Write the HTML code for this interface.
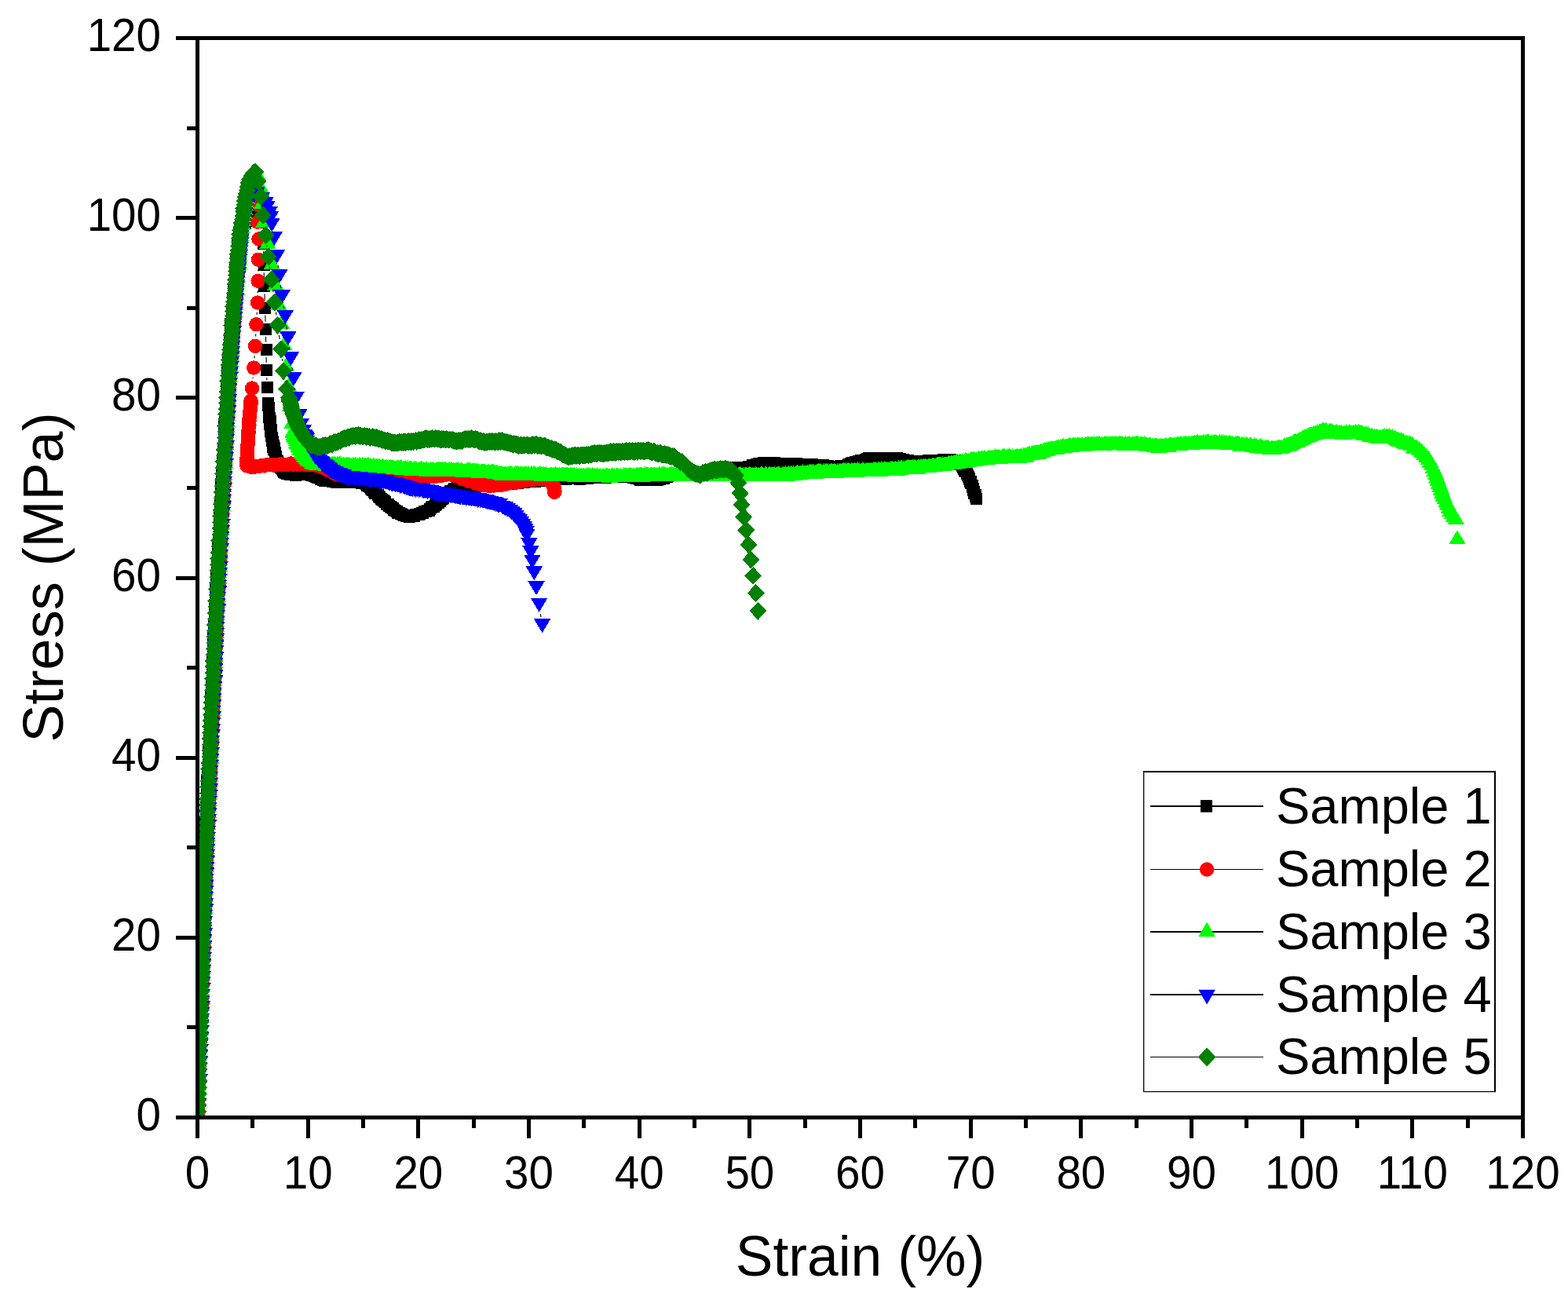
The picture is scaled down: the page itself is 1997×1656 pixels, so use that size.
<!DOCTYPE html><html><head><meta charset="utf-8"><style>html,body{margin:0;padding:0;background:#fff;}svg{display:block}text{font-family:"Liberation Sans", Arial, sans-serif}</style></head><body>
<svg width="1997" height="1656" viewBox="0 0 1997 1656">
<rect x="0" y="0" width="1997" height="1656" fill="#fff"/>
<defs><clipPath id="pc"><rect x="251.5" y="48.5" width="1688.0" height="1375.0"/></clipPath></defs>
<g clip-path="url(#pc)">
<path fill="none" stroke="#000" stroke-width="1.1" d="M331.4 271.6L331.9 274.1M334.2 293L334.8 301M335.7 320L335.8 328.2M336.2 347.2L336.3 355.4M336.9 374.4L337.3 382.6M337.8 401.6L338 409.7M338.4 428.7L338.7 435.8M339.1 454.8L339.2 461.9M339.8 480.9L339.9 484.3"/>
<path fill="#000" shape-rendering="crispEdges" d="M243.4 1416h15v15h-15zM243.4 1408.3h15v15h-15zM244.1 1400.5h15v15h-15zM243.7 1393h15v15h-15zM244.4 1385.3h15v15h-15zM244.4 1377.5h15v15h-15zM244.3 1369.8h15v15h-15zM245 1362h15v15h-15zM244.7 1354.5h15v15h-15zM245.3 1346.8h15v15h-15zM245.1 1339h15v15h-15zM245.4 1331.3h15v15h-15zM245.9 1323.5h15v15h-15zM246.5 1315.8h15v15h-15zM246 1308.3h15v15h-15zM246.3 1300.5h15v15h-15zM246.9 1292.8h15v15h-15zM247.4 1285h15v15h-15zM247.2 1277.5h15v15h-15zM247.3 1269.8h15v15h-15zM248 1262.1h15v15h-15zM247.3 1254.3h15v15h-15zM248.3 1246.6h15v15h-15zM248 1238.8h15v15h-15zM248 1231.3h15v15h-15zM248.2 1223.6h15v15h-15zM248.6 1215.8h15v15h-15zM249.3 1208.1h15v15h-15zM248.9 1200.3h15v15h-15zM249.5 1192.8h15v15h-15zM249.7 1185.1h15v15h-15zM249.7 1177.3h15v15h-15zM250 1169.6h15v15h-15zM249.8 1161.8h15v15h-15zM250 1154.1h15v15h-15zM250.3 1146.6h15v15h-15zM251 1138.8h15v15h-15zM250.9 1131.1h15v15h-15zM251 1123.3h15v15h-15zM251.5 1115.9h15v15h-15zM251.5 1108.1h15v15h-15zM251.6 1100.4h15v15h-15zM252.3 1092.6h15v15h-15zM252.5 1084.9h15v15h-15zM252.4 1077.4h15v15h-15zM253.1 1069.6h15v15h-15zM253.4 1062.1h15v15h-15zM254 1054.6h15v15h-15zM254.2 1046.9h15v15h-15zM254.1 1039.4h15v15h-15zM255.1 1031.7h15v15h-15zM254.6 1024.2h15v15h-15zM255.3 1016.4h15v15h-15zM255.9 1008.7h15v15h-15zM255.7 1000.9h15v15h-15zM256.3 993.2h15v15h-15zM256.2 985.5h15v15h-15zM257.2 977.7h15v15h-15zM257.6 970.2h15v15h-15zM257.8 962.5h15v15h-15zM258.4 954.7h15v15h-15zM258.2 947h15v15h-15zM258.9 939.3h15v15h-15zM259.2 931.5h15v15h-15zM259.5 923.8h15v15h-15zM259.7 916h15v15h-15zM260.4 908.5h15v15h-15zM260.8 900.8h15v15h-15zM260.7 893.3h15v15h-15zM261.2 885.6h15v15h-15zM260.9 878.1h15v15h-15zM261.9 870.3h15v15h-15zM262.2 862.8h15v15h-15zM262.9 855.1h15v15h-15zM263 847.6h15v15h-15zM262.8 840.1h15v15h-15zM263.2 832.4h15v15h-15zM263.8 824.9h15v15h-15zM263.5 817.1h15v15h-15zM264.3 809.6h15v15h-15zM264.3 801.9h15v15h-15zM264.6 794.4h15v15h-15zM264.9 786.7h15v15h-15zM265.9 779.2h15v15h-15zM265.6 771.4h15v15h-15zM266.1 763.9h15v15h-15zM266.5 756.2h15v15h-15zM267.4 748.4h15v15h-15zM267 740.7h15v15h-15zM267.8 733h15v15h-15zM268.3 725.2h15v15h-15zM269.1 717.5h15v15h-15zM269.4 709.7h15v15h-15zM269.9 702h15v15h-15zM269.7 694.3h15v15h-15zM270.3 686.5h15v15h-15zM270.6 678.8h15v15h-15zM271.6 671.1h15v15h-15zM272.1 663.3h15v15h-15zM271.7 655.6h15v15h-15zM272.1 647.8h15v15h-15zM272.6 640.1h15v15h-15zM273 632.4h15v15h-15zM273.7 624.6h15v15h-15zM274.2 616.9h15v15h-15zM274.3 609.1h15v15h-15zM274.5 601.4h15v15h-15zM275.3 593.7h15v15h-15zM275.7 585.9h15v15h-15zM276.3 578.2h15v15h-15zM277.1 570.7h15v15h-15zM277.2 563h15v15h-15zM277.5 555.2h15v15h-15zM278 547.7h15v15h-15zM278.4 540.2h15v15h-15zM278.2 532.8h15v15h-15zM279.4 525.5h15v15h-15zM279.7 518.3h15v15h-15zM280.2 511h15v15h-15zM280.5 503.8h15v15h-15zM280.5 496.8h15v15h-15zM280.9 489.8h15v15h-15zM280.9 482.8h15v15h-15zM281.8 476.1h15v15h-15zM281.7 469.3h15v15h-15zM282.2 462.6h15v15h-15zM282.8 455.9h15v15h-15zM283.2 449.4h15v15h-15zM283.9 442.9h15v15h-15zM284.1 436.4h15v15h-15zM284.5 429.9h15v15h-15zM285.1 423.7h15v15h-15zM285.5 417.5h15v15h-15zM286.2 411.2h15v15h-15zM286.3 405h15v15h-15zM287.6 399h15v15h-15zM287.9 393.1h15v15h-15zM287.9 387.1h15v15h-15zM288.5 381.1h15v15h-15zM289.1 375.4h15v15h-15zM289.6 369.6h15v15h-15zM289.9 363.9h15v15h-15zM291.1 358.2h15v15h-15zM291.7 352.5h15v15h-15zM291.6 347h15v15h-15zM292.1 341.5h15v15h-15zM292.2 336h15v15h-15zM292.7 330.5h15v15h-15zM293.4 325.3h15v15h-15zM293.7 320.1h15v15h-15zM294.8 314.8h15v15h-15zM294.6 309.6h15v15h-15zM295 304.4h15v15h-15zM296.4 299.4h15v15h-15zM296.5 294.4h15v15h-15zM296.6 289.5h15v15h-15zM299 285.1h15v15h-15zM301.5 281.1h15v15h-15zM304.9 277.4h15v15h-15zM308.3 273.6h15v15h-15zM311.1 269.8h15v15h-15zM313.8 266.1h15v15h-15zM316.2 262.3h15v15h-15zM319.2 258.6h15v15h-15zM322.3 254.8h15v15h-15zM326 276h15v15h-15zM328 303h15v15h-15zM328.5 330.2h15v15h-15zM329 357.4h15v15h-15zM330.2 384.6h15v15h-15zM330.6 411.7h15v15h-15zM331.5 437.8h15v15h-15zM331.8 463.9h15v15h-15zM332.9 486.3h15v15h-15zM333.5 505.9h15v15h-15zM334 507.9h15v15h-15zM334.1 509.1h15v15h-15zM334.6 512.1h15v15h-15zM334.9 513.9h15v15h-15zM335 515.8h15v15h-15zM334.8 517.5h15v15h-15zM335.1 518.8h15v15h-15zM335 521.1h15v15h-15zM335.4 523.7h15v15h-15zM336.2 525.3h15v15h-15zM336.3 528.1h15v15h-15zM336.6 529.2h15v15h-15zM336.2 531h15v15h-15zM336.4 532.9h15v15h-15zM337 535.9h15v15h-15zM337.4 537.3h15v15h-15zM337.5 539.7h15v15h-15zM337.4 541.5h15v15h-15zM338.3 543.7h15v15h-15zM338.4 545.2h15v15h-15zM338.3 547.6h15v15h-15zM338.6 549.6h15v15h-15zM339.4 551h15v15h-15zM339.2 553.8h15v15h-15zM339.8 554.7h15v15h-15zM339.7 556.6h15v15h-15zM340.7 559.5h15v15h-15zM340.4 561.5h15v15h-15zM341.5 563.2h15v15h-15zM341.3 565h15v15h-15zM341.5 566.3h15v15h-15zM342.6 569.1h15v15h-15zM342.7 571.5h15v15h-15zM343.2 573.3h15v15h-15zM344.2 574.2h15v15h-15zM344.4 576.2h15v15h-15zM345.1 578.5h15v15h-15zM345.8 580.2h15v15h-15zM346.4 582.7h15v15h-15zM347.2 584h15v15h-15zM348.4 586.3h15v15h-15zM349.5 588h15v15h-15zM350.7 589.1h15v15h-15zM351.8 590h15v15h-15zM352.9 591.9h15v15h-15zM353.7 594.4h15v15h-15zM355.5 594.8h15v15h-15zM357.9 595.5h15v15h-15zM359.4 596.1h15v15h-15zM361.5 597h15v15h-15zM363.1 597.3h15v15h-15zM365.2 597.1h15v15h-15zM367.6 597.4h15v15h-15zM369.4 597.6h15v15h-15zM371.7 597.1h15v15h-15zM373.4 597.1h15v15h-15zM375.4 597.2h15v15h-15zM377.3 596.9h15v15h-15zM379.3 597.4h15v15h-15zM381.5 597.2h15v15h-15zM383.7 596.2h15v15h-15zM385.4 597.3h15v15h-15zM387.5 596.7h15v15h-15zM388.9 597.6h15v15h-15zM390.8 597.9h15v15h-15zM392.7 599h15v15h-15zM395.2 599.9h15v15h-15zM396.5 600.5h15v15h-15zM398.7 600.5h15v15h-15zM400.7 602.5h15v15h-15zM402 603.3h15v15h-15zM404 603.5h15v15h-15zM406.3 604.8h15v15h-15zM407.4 605h15v15h-15zM409.6 605.3h15v15h-15zM411.4 605.4h15v15h-15zM413.8 605.1h15v15h-15zM415.7 605.8h15v15h-15zM417.2 605.8h15v15h-15zM419.7 606.1h15v15h-15zM421.3 606.9h15v15h-15zM423.8 607h15v15h-15zM425.3 606.1h15v15h-15zM427.2 606.8h15v15h-15zM429.4 605.8h15v15h-15zM431.5 606.8h15v15h-15zM433.8 605.8h15v15h-15zM435.3 606.6h15v15h-15zM437.6 606.2h15v15h-15zM439.2 605.2h15v15h-15zM441.7 605.6h15v15h-15zM443.2 606.2h15v15h-15zM445.6 606.2h15v15h-15zM447.1 606.8h15v15h-15zM449.1 607.3h15v15h-15zM451.3 607h15v15h-15zM453.3 608.4h15v15h-15zM455 607.7h15v15h-15zM457.2 608.4h15v15h-15zM458.6 609.1h15v15h-15zM460 610.5h15v15h-15zM461.7 612h15v15h-15zM463.5 613.4h15v15h-15zM464.7 614.6h15v15h-15zM466.1 615.8h15v15h-15zM467.4 617.1h15v15h-15zM469.3 619.3h15v15h-15zM470.3 620.5h15v15h-15zM472.3 621.4h15v15h-15zM473.7 623.2h15v15h-15zM474.9 625.1h15v15h-15zM476.3 626h15v15h-15zM478 628.1h15v15h-15zM479.2 629.2h15v15h-15zM480.9 630.3h15v15h-15zM482.2 631.3h15v15h-15zM483.3 632.3h15v15h-15zM484.8 634.5h15v15h-15zM486.5 635h15v15h-15zM488 637.1h15v15h-15zM490.2 638.1h15v15h-15zM491.3 638.7h15v15h-15zM492.9 640.3h15v15h-15zM494.4 641.5h15v15h-15zM496 643.4h15v15h-15zM498.2 644h15v15h-15zM499.3 645.7h15v15h-15zM501.2 645.7h15v15h-15zM502.7 646.6h15v15h-15zM504.9 647.6h15v15h-15zM506.5 648.5h15v15h-15zM508.1 649h15v15h-15zM510 650.1h15v15h-15zM511.8 650.4h15v15h-15zM513.9 650.5h15v15h-15zM516 650.3h15v15h-15zM518.1 650h15v15h-15zM519.9 649.7h15v15h-15zM521.6 648.4h15v15h-15zM524 647.6h15v15h-15zM525.7 647.7h15v15h-15zM527 647.2h15v15h-15zM529.5 646.1h15v15h-15zM531.2 645.6h15v15h-15zM532.6 644.4h15v15h-15zM534.7 644h15v15h-15zM536.8 643.2h15v15h-15zM538.5 642.5h15v15h-15zM540.3 641.3h15v15h-15zM541.5 639.1h15v15h-15zM543 638.4h15v15h-15zM544.6 637.8h15v15h-15zM546.5 636.3h15v15h-15zM548.1 635.1h15v15h-15zM549.5 632.9h15v15h-15zM551.3 632.6h15v15h-15zM552.5 631h15v15h-15zM554.2 629h15v15h-15zM555.7 627.9h15v15h-15zM556.7 626.6h15v15h-15zM558.6 625.1h15v15h-15zM560.1 624.8h15v15h-15zM561.3 622.5h15v15h-15zM562.7 621.6h15v15h-15zM564.3 620h15v15h-15zM565.9 618.2h15v15h-15zM567.3 617.5h15v15h-15zM569.5 616.6h15v15h-15zM571.1 615.2h15v15h-15zM572.4 614.6h15v15h-15zM574.7 614.3h15v15h-15zM576.6 613.1h15v15h-15zM578.4 612.8h15v15h-15zM580.3 611.7h15v15h-15zM582.5 611.2h15v15h-15zM584.5 611.7h15v15h-15zM585.6 610.4h15v15h-15zM588.2 610.7h15v15h-15zM589.9 610h15v15h-15zM591.7 611.3h15v15h-15zM593.6 611.1h15v15h-15zM595.6 611.3h15v15h-15zM598.2 611h15v15h-15zM600.1 611.4h15v15h-15zM602.1 611.5h15v15h-15zM603.6 611.6h15v15h-15zM605.8 610.3h15v15h-15zM607.4 610.8h15v15h-15zM609.8 610.4h15v15h-15zM611.5 610.3h15v15h-15zM613.7 610.9h15v15h-15zM615.4 610.6h15v15h-15zM618.1 609.6h15v15h-15zM620.1 610.3h15v15h-15zM622.1 609.6h15v15h-15zM623.7 609.6h15v15h-15zM626.2 609.7h15v15h-15zM627.7 609.4h15v15h-15zM629.6 608.7h15v15h-15zM631.4 609.7h15v15h-15zM633.6 609.7h15v15h-15zM635.5 608.6h15v15h-15zM637.8 608.4h15v15h-15zM639.6 609.3h15v15h-15zM642 609h15v15h-15zM643.8 609h15v15h-15zM646.1 608.2h15v15h-15zM647.9 607.3h15v15h-15zM649.9 607.7h15v15h-15zM651.9 607.8h15v15h-15zM653.5 606.8h15v15h-15zM656 606.7h15v15h-15zM657.6 606.8h15v15h-15zM659.5 607.1h15v15h-15zM662 606.3h15v15h-15zM663.8 606.1h15v15h-15zM665.7 606h15v15h-15zM667.3 605.5h15v15h-15zM669.4 606.4h15v15h-15zM671.6 605.2h15v15h-15zM673.9 606.1h15v15h-15zM675.5 604.7h15v15h-15zM677.3 604.4h15v15h-15zM679.4 604.2h15v15h-15zM681.3 604.3h15v15h-15zM683.6 605h15v15h-15zM685.7 604.1h15v15h-15zM687.4 604.1h15v15h-15zM689.4 603.7h15v15h-15zM691.2 603.4h15v15h-15zM693.9 603h15v15h-15zM695.5 603.6h15v15h-15zM697.8 602.8h15v15h-15zM699.3 602.7h15v15h-15zM701.4 602.8h15v15h-15zM703.8 603.2h15v15h-15zM705.7 601.8h15v15h-15zM707.1 602.6h15v15h-15zM709.8 602.1h15v15h-15zM711.5 601.3h15v15h-15zM713.3 602.5h15v15h-15zM715.7 602.4h15v15h-15zM717.8 601.5h15v15h-15zM719.1 601.4h15v15h-15zM721.4 602.2h15v15h-15zM723.8 602.2h15v15h-15zM725.5 602.3h15v15h-15zM727.4 602h15v15h-15zM729.1 602.3h15v15h-15zM731.2 602.5h15v15h-15zM733.5 601.6h15v15h-15zM735.1 601.4h15v15h-15zM737.5 601.9h15v15h-15zM739.1 600.9h15v15h-15zM741.4 601.5h15v15h-15zM743.3 600.9h15v15h-15zM745.5 600.4h15v15h-15zM747.2 601h15v15h-15zM749.8 601.1h15v15h-15zM751.7 600.7h15v15h-15zM753.2 600.3h15v15h-15zM755.8 600.8h15v15h-15zM757.2 599.7h15v15h-15zM759.4 600.5h15v15h-15zM761.3 599.8h15v15h-15zM763.5 600.6h15v15h-15zM765.1 599.3h15v15h-15zM767.2 599.7h15v15h-15zM769.5 599.3h15v15h-15zM771.6 599.9h15v15h-15zM773.4 599h15v15h-15zM775.7 599.1h15v15h-15zM777.6 598.8h15v15h-15zM779.1 599.5h15v15h-15zM781.2 599.6h15v15h-15zM783.3 598.5h15v15h-15zM785.1 598.9h15v15h-15zM787.5 599.7h15v15h-15zM789 599h15v15h-15zM791.1 599.9h15v15h-15zM793 598.7h15v15h-15zM795 599.2h15v15h-15zM797.6 600h15v15h-15zM799.4 600.5h15v15h-15zM801.4 600.4h15v15h-15zM802.7 602h15v15h-15zM805 601.5h15v15h-15zM806.8 602.7h15v15h-15zM808.4 603.5h15v15h-15zM810.2 603h15v15h-15zM812.3 603.5h15v15h-15zM814.8 603.2h15v15h-15zM816.8 603.3h15v15h-15zM818.4 604.2h15v15h-15zM820.7 603.6h15v15h-15zM822.1 603.7h15v15h-15zM824.4 604.3h15v15h-15zM826.2 603.5h15v15h-15zM828.8 603h15v15h-15zM830.4 604.1h15v15h-15zM832.7 603.1h15v15h-15zM833.9 602.2h15v15h-15zM836.4 601.7h15v15h-15zM838.1 601.7h15v15h-15zM839.6 600h15v15h-15zM841.9 599.6h15v15h-15zM843.1 598.9h15v15h-15zM845 597.7h15v15h-15zM846.8 598.2h15v15h-15zM849.5 598h15v15h-15zM851.5 597.1h15v15h-15zM853 597.6h15v15h-15zM855.5 598.2h15v15h-15zM857.1 597.1h15v15h-15zM859.1 597.4h15v15h-15zM861.5 596.9h15v15h-15zM863.4 597.6h15v15h-15zM865.4 597.5h15v15h-15zM867.3 596.8h15v15h-15zM869 596.7h15v15h-15zM871.4 596.1h15v15h-15zM872.9 596.8h15v15h-15zM874.9 595.6h15v15h-15zM876.7 596h15v15h-15zM879 596.4h15v15h-15zM881.4 596.2h15v15h-15zM882.9 594.7h15v15h-15zM884.7 595h15v15h-15zM887.2 594.7h15v15h-15zM888.8 594.4h15v15h-15zM891.1 594.5h15v15h-15zM893.2 594.5h15v15h-15zM895.1 593.3h15v15h-15zM897.2 593.3h15v15h-15zM899 593h15v15h-15zM901.1 592.4h15v15h-15zM902.6 592.1h15v15h-15zM904.5 592.5h15v15h-15zM906.8 591.4h15v15h-15zM908.6 591.9h15v15h-15zM910.7 590.4h15v15h-15zM912.9 590.6h15v15h-15zM915 589.5h15v15h-15zM916.5 590.1h15v15h-15zM918.8 589.8h15v15h-15zM920.1 588.5h15v15h-15zM922.1 588h15v15h-15zM924.8 588.1h15v15h-15zM926.7 588.1h15v15h-15zM928.6 588.6h15v15h-15zM930.1 589.4h15v15h-15zM932.7 588.7h15v15h-15zM934.3 589.8h15v15h-15zM936 589.8h15v15h-15zM937.9 589.2h15v15h-15zM939.9 589.3h15v15h-15zM942.2 588.3h15v15h-15zM943.6 588h15v15h-15zM946.1 587.3h15v15h-15zM947.8 586.9h15v15h-15zM950.1 586.7h15v15h-15zM951.3 585.4h15v15h-15zM953.4 585.3h15v15h-15zM955.5 583.9h15v15h-15zM957 584h15v15h-15zM959.1 582.8h15v15h-15zM961 583.5h15v15h-15zM963 582.7h15v15h-15zM965 582.3h15v15h-15zM967.4 582.9h15v15h-15zM969 581.6h15v15h-15zM971.3 581.7h15v15h-15zM972.7 582.7h15v15h-15zM975 582.7h15v15h-15zM977 582.9h15v15h-15zM979 582h15v15h-15zM980.7 582.6h15v15h-15zM983.2 583.2h15v15h-15zM984.7 582.8h15v15h-15zM987 582.7h15v15h-15zM988.8 582.5h15v15h-15zM991.1 583.5h15v15h-15zM992.7 583h15v15h-15zM995.3 583.8h15v15h-15zM996.8 582.8h15v15h-15zM999.4 584.1h15v15h-15zM1001 582.9h15v15h-15zM1003.4 583.5h15v15h-15zM1005.4 583.9h15v15h-15zM1007.3 583.4h15v15h-15zM1009.3 583.6h15v15h-15zM1010.9 584.5h15v15h-15zM1013.3 583.7h15v15h-15zM1014.8 584.1h15v15h-15zM1017 584.2h15v15h-15zM1018.7 584.2h15v15h-15zM1021.2 585.2h15v15h-15zM1022.6 584.8h15v15h-15zM1025.2 584.2h15v15h-15zM1027.3 584.3h15v15h-15zM1029.1 585h15v15h-15zM1031.1 584.8h15v15h-15zM1032.9 585.2h15v15h-15zM1034.9 585.4h15v15h-15zM1037 585.2h15v15h-15zM1038.6 585.5h15v15h-15zM1041 585.1h15v15h-15zM1043.2 586h15v15h-15zM1044.9 585.5h15v15h-15zM1046.9 585.8h15v15h-15zM1048.6 586.6h15v15h-15zM1050.5 587h15v15h-15zM1052.8 586.8h15v15h-15zM1054.9 587.2h15v15h-15zM1056.9 588.4h15v15h-15zM1058.7 587h15v15h-15zM1060.6 587h15v15h-15zM1063 586.2h15v15h-15zM1064.8 587h15v15h-15zM1066.7 586.3h15v15h-15zM1068.2 586.1h15v15h-15zM1070.4 585.6h15v15h-15zM1072.7 584.1h15v15h-15zM1074.5 584.6h15v15h-15zM1075.8 583.1h15v15h-15zM1078.3 582.3h15v15h-15zM1080.3 581.8h15v15h-15zM1082.2 581.1h15v15h-15zM1083.8 581.6h15v15h-15zM1085.5 580h15v15h-15zM1087.6 579.5h15v15h-15zM1089.2 578.7h15v15h-15zM1091.2 579.2h15v15h-15zM1093.5 578.5h15v15h-15zM1095 577.8h15v15h-15zM1096.9 576.8h15v15h-15zM1099.2 576h15v15h-15zM1101.4 576.3h15v15h-15zM1103.1 576.7h15v15h-15zM1104.8 576.9h15v15h-15zM1107.2 576.1h15v15h-15zM1109.3 575.9h15v15h-15zM1111.5 576.3h15v15h-15zM1113 576.6h15v15h-15zM1115 575.7h15v15h-15zM1117.3 575.6h15v15h-15zM1119.3 575.9h15v15h-15zM1121.2 576.9h15v15h-15zM1123.2 576.4h15v15h-15zM1124.9 575.5h15v15h-15zM1126.7 575.7h15v15h-15zM1129.2 576.1h15v15h-15zM1131.1 576.8h15v15h-15zM1132.8 575.8h15v15h-15zM1135.2 575.9h15v15h-15zM1136.6 576.8h15v15h-15zM1138.7 577.2h15v15h-15zM1140.7 577.9h15v15h-15zM1143 577.7h15v15h-15zM1145 578.5h15v15h-15zM1146.5 579.6h15v15h-15zM1148.6 578.8h15v15h-15zM1150.4 579.9h15v15h-15zM1153 580.5h15v15h-15zM1154.6 580.2h15v15h-15zM1156.2 581.1h15v15h-15zM1158.6 581.1h15v15h-15zM1160.7 581h15v15h-15zM1162.9 581.2h15v15h-15zM1164.3 581.3h15v15h-15zM1166.2 580.6h15v15h-15zM1168.5 580h15v15h-15zM1170.2 580.6h15v15h-15zM1172.1 580h15v15h-15zM1174.9 579.3h15v15h-15zM1176.3 579.7h15v15h-15zM1178.5 579.6h15v15h-15zM1180.7 578.9h15v15h-15zM1182.3 579h15v15h-15zM1184.1 579.7h15v15h-15zM1186.7 579.3h15v15h-15zM1188.1 579.4h15v15h-15zM1190.7 578.8h15v15h-15zM1192.7 578.6h15v15h-15zM1194.3 578.1h15v15h-15zM1196.3 578.1h15v15h-15zM1198.3 579h15v15h-15zM1200.6 579.2h15v15h-15zM1202.6 578.4h15v15h-15zM1204.5 578.6h15v15h-15zM1206.7 578.7h15v15h-15zM1208.3 578.9h15v15h-15zM1210.6 578.9h15v15h-15zM1212.1 579.9h15v15h-15zM1213.1 581.5h15v15h-15zM1215.1 583.8h15v15h-15zM1216.6 584.2h15v15h-15zM1217.9 585.8h15v15h-15zM1218.6 588.2h15v15h-15zM1220.1 589.5h15v15h-15zM1221.4 591.5h15v15h-15zM1222.4 592.9h15v15h-15zM1223.5 594.7h15v15h-15zM1224.2 596.3h15v15h-15zM1225.2 597.5h15v15h-15zM1225.8 599.7h15v15h-15zM1226.5 601.9h15v15h-15zM1227.3 602.6h15v15h-15zM1228 605.7h15v15h-15zM1229 606.4h15v15h-15zM1229.4 608.2h15v15h-15zM1230.7 610.8h15v15h-15zM1231.3 612.9h15v15h-15zM1231.5 614.6h15v15h-15zM1232.3 616.8h15v15h-15zM1233.3 618.8h15v15h-15zM1233.4 620.7h15v15h-15zM1234.7 622.7h15v15h-15zM1234.6 623.5h15v15h-15zM1235.3 625.2h15v15h-15zM1236.4 627.9h15v15h-15z"/>
<path fill="none" stroke="#000" stroke-width="1.1" d="M329.3 316.8L329.2 318.4M328.8 343L328.8 345.6M328.4 370.2L328.3 373.2M327.3 397.8L327.1 400.9M325.7 425.5L325.6 428.6M324.2 453.2L324 456.2M322.2 480.8L322 482.3"/>
<path fill="#f00" shape-rendering="crispEdges" d="M243 1423.5a9.2 9.2 0 1 0 18.4 0a9.2 9.2 0 1 0 -18.4 0zM243.5 1415.8a9.2 9.2 0 1 0 18.4 0a9.2 9.2 0 1 0 -18.4 0zM243.6 1408a9.2 9.2 0 1 0 18.4 0a9.2 9.2 0 1 0 -18.4 0zM243.5 1400.5a9.2 9.2 0 1 0 18.4 0a9.2 9.2 0 1 0 -18.4 0zM243.5 1392.8a9.2 9.2 0 1 0 18.4 0a9.2 9.2 0 1 0 -18.4 0zM243.8 1385a9.2 9.2 0 1 0 18.4 0a9.2 9.2 0 1 0 -18.4 0zM244.7 1377.3a9.2 9.2 0 1 0 18.4 0a9.2 9.2 0 1 0 -18.4 0zM244.4 1369.5a9.2 9.2 0 1 0 18.4 0a9.2 9.2 0 1 0 -18.4 0zM244.8 1361.8a9.2 9.2 0 1 0 18.4 0a9.2 9.2 0 1 0 -18.4 0zM245.2 1354a9.2 9.2 0 1 0 18.4 0a9.2 9.2 0 1 0 -18.4 0zM245 1346.3a9.2 9.2 0 1 0 18.4 0a9.2 9.2 0 1 0 -18.4 0zM245.5 1338.5a9.2 9.2 0 1 0 18.4 0a9.2 9.2 0 1 0 -18.4 0zM245.8 1330.8a9.2 9.2 0 1 0 18.4 0a9.2 9.2 0 1 0 -18.4 0zM246.5 1323.1a9.2 9.2 0 1 0 18.4 0a9.2 9.2 0 1 0 -18.4 0zM246.4 1315.3a9.2 9.2 0 1 0 18.4 0a9.2 9.2 0 1 0 -18.4 0zM246.6 1307.6a9.2 9.2 0 1 0 18.4 0a9.2 9.2 0 1 0 -18.4 0zM247.5 1299.8a9.2 9.2 0 1 0 18.4 0a9.2 9.2 0 1 0 -18.4 0zM247.3 1292.1a9.2 9.2 0 1 0 18.4 0a9.2 9.2 0 1 0 -18.4 0zM247.9 1284.3a9.2 9.2 0 1 0 18.4 0a9.2 9.2 0 1 0 -18.4 0zM248 1276.6a9.2 9.2 0 1 0 18.4 0a9.2 9.2 0 1 0 -18.4 0zM247.6 1268.8a9.2 9.2 0 1 0 18.4 0a9.2 9.2 0 1 0 -18.4 0zM248.3 1261.1a9.2 9.2 0 1 0 18.4 0a9.2 9.2 0 1 0 -18.4 0zM248.6 1253.3a9.2 9.2 0 1 0 18.4 0a9.2 9.2 0 1 0 -18.4 0zM249.2 1245.6a9.2 9.2 0 1 0 18.4 0a9.2 9.2 0 1 0 -18.4 0zM249 1237.9a9.2 9.2 0 1 0 18.4 0a9.2 9.2 0 1 0 -18.4 0zM249.6 1230.1a9.2 9.2 0 1 0 18.4 0a9.2 9.2 0 1 0 -18.4 0zM249.7 1222.4a9.2 9.2 0 1 0 18.4 0a9.2 9.2 0 1 0 -18.4 0zM249.7 1214.6a9.2 9.2 0 1 0 18.4 0a9.2 9.2 0 1 0 -18.4 0zM250.6 1206.9a9.2 9.2 0 1 0 18.4 0a9.2 9.2 0 1 0 -18.4 0zM250.1 1199.1a9.2 9.2 0 1 0 18.4 0a9.2 9.2 0 1 0 -18.4 0zM251 1191.4a9.2 9.2 0 1 0 18.4 0a9.2 9.2 0 1 0 -18.4 0zM250.7 1183.6a9.2 9.2 0 1 0 18.4 0a9.2 9.2 0 1 0 -18.4 0zM250.7 1175.9a9.2 9.2 0 1 0 18.4 0a9.2 9.2 0 1 0 -18.4 0zM251.2 1168.1a9.2 9.2 0 1 0 18.4 0a9.2 9.2 0 1 0 -18.4 0zM252 1160.4a9.2 9.2 0 1 0 18.4 0a9.2 9.2 0 1 0 -18.4 0zM252.5 1152.7a9.2 9.2 0 1 0 18.4 0a9.2 9.2 0 1 0 -18.4 0zM251.8 1144.9a9.2 9.2 0 1 0 18.4 0a9.2 9.2 0 1 0 -18.4 0zM252.5 1137.2a9.2 9.2 0 1 0 18.4 0a9.2 9.2 0 1 0 -18.4 0zM252.8 1129.7a9.2 9.2 0 1 0 18.4 0a9.2 9.2 0 1 0 -18.4 0zM253.4 1121.9a9.2 9.2 0 1 0 18.4 0a9.2 9.2 0 1 0 -18.4 0zM253 1114.4a9.2 9.2 0 1 0 18.4 0a9.2 9.2 0 1 0 -18.4 0zM253.6 1106.7a9.2 9.2 0 1 0 18.4 0a9.2 9.2 0 1 0 -18.4 0zM253.7 1098.9a9.2 9.2 0 1 0 18.4 0a9.2 9.2 0 1 0 -18.4 0zM254.5 1091.4a9.2 9.2 0 1 0 18.4 0a9.2 9.2 0 1 0 -18.4 0zM254.3 1083.7a9.2 9.2 0 1 0 18.4 0a9.2 9.2 0 1 0 -18.4 0zM255.3 1076.2a9.2 9.2 0 1 0 18.4 0a9.2 9.2 0 1 0 -18.4 0zM255 1068.5a9.2 9.2 0 1 0 18.4 0a9.2 9.2 0 1 0 -18.4 0zM255.2 1061a9.2 9.2 0 1 0 18.4 0a9.2 9.2 0 1 0 -18.4 0zM256.1 1053.2a9.2 9.2 0 1 0 18.4 0a9.2 9.2 0 1 0 -18.4 0zM256.2 1045.7a9.2 9.2 0 1 0 18.4 0a9.2 9.2 0 1 0 -18.4 0zM256.1 1038a9.2 9.2 0 1 0 18.4 0a9.2 9.2 0 1 0 -18.4 0zM257 1030.5a9.2 9.2 0 1 0 18.4 0a9.2 9.2 0 1 0 -18.4 0zM256.8 1022.8a9.2 9.2 0 1 0 18.4 0a9.2 9.2 0 1 0 -18.4 0zM257.8 1015a9.2 9.2 0 1 0 18.4 0a9.2 9.2 0 1 0 -18.4 0zM258.1 1007.3a9.2 9.2 0 1 0 18.4 0a9.2 9.2 0 1 0 -18.4 0zM258.5 999.8a9.2 9.2 0 1 0 18.4 0a9.2 9.2 0 1 0 -18.4 0zM258.7 992a9.2 9.2 0 1 0 18.4 0a9.2 9.2 0 1 0 -18.4 0zM258.7 984.3a9.2 9.2 0 1 0 18.4 0a9.2 9.2 0 1 0 -18.4 0zM259.1 976.6a9.2 9.2 0 1 0 18.4 0a9.2 9.2 0 1 0 -18.4 0zM259.4 968.8a9.2 9.2 0 1 0 18.4 0a9.2 9.2 0 1 0 -18.4 0zM260.3 961.1a9.2 9.2 0 1 0 18.4 0a9.2 9.2 0 1 0 -18.4 0zM259.8 953.6a9.2 9.2 0 1 0 18.4 0a9.2 9.2 0 1 0 -18.4 0zM261 945.8a9.2 9.2 0 1 0 18.4 0a9.2 9.2 0 1 0 -18.4 0zM260.4 938.3a9.2 9.2 0 1 0 18.4 0a9.2 9.2 0 1 0 -18.4 0zM260.9 930.6a9.2 9.2 0 1 0 18.4 0a9.2 9.2 0 1 0 -18.4 0zM261.3 922.9a9.2 9.2 0 1 0 18.4 0a9.2 9.2 0 1 0 -18.4 0zM262.3 915.1a9.2 9.2 0 1 0 18.4 0a9.2 9.2 0 1 0 -18.4 0zM262.2 907.6a9.2 9.2 0 1 0 18.4 0a9.2 9.2 0 1 0 -18.4 0zM262.4 899.9a9.2 9.2 0 1 0 18.4 0a9.2 9.2 0 1 0 -18.4 0zM263.3 892.4a9.2 9.2 0 1 0 18.4 0a9.2 9.2 0 1 0 -18.4 0zM262.9 884.6a9.2 9.2 0 1 0 18.4 0a9.2 9.2 0 1 0 -18.4 0zM263.5 877.1a9.2 9.2 0 1 0 18.4 0a9.2 9.2 0 1 0 -18.4 0zM263.9 869.4a9.2 9.2 0 1 0 18.4 0a9.2 9.2 0 1 0 -18.4 0zM264.5 861.9a9.2 9.2 0 1 0 18.4 0a9.2 9.2 0 1 0 -18.4 0zM264.8 854.4a9.2 9.2 0 1 0 18.4 0a9.2 9.2 0 1 0 -18.4 0zM265 846.7a9.2 9.2 0 1 0 18.4 0a9.2 9.2 0 1 0 -18.4 0zM265 839.2a9.2 9.2 0 1 0 18.4 0a9.2 9.2 0 1 0 -18.4 0zM265.3 831.4a9.2 9.2 0 1 0 18.4 0a9.2 9.2 0 1 0 -18.4 0zM265.5 823.9a9.2 9.2 0 1 0 18.4 0a9.2 9.2 0 1 0 -18.4 0zM266.5 816.2a9.2 9.2 0 1 0 18.4 0a9.2 9.2 0 1 0 -18.4 0zM266.7 808.7a9.2 9.2 0 1 0 18.4 0a9.2 9.2 0 1 0 -18.4 0zM267.1 801a9.2 9.2 0 1 0 18.4 0a9.2 9.2 0 1 0 -18.4 0zM266.8 793.5a9.2 9.2 0 1 0 18.4 0a9.2 9.2 0 1 0 -18.4 0zM267.4 785.7a9.2 9.2 0 1 0 18.4 0a9.2 9.2 0 1 0 -18.4 0zM268.1 778.2a9.2 9.2 0 1 0 18.4 0a9.2 9.2 0 1 0 -18.4 0zM268.2 770.7a9.2 9.2 0 1 0 18.4 0a9.2 9.2 0 1 0 -18.4 0zM268.1 763a9.2 9.2 0 1 0 18.4 0a9.2 9.2 0 1 0 -18.4 0zM268.8 755.3a9.2 9.2 0 1 0 18.4 0a9.2 9.2 0 1 0 -18.4 0zM269.7 747.5a9.2 9.2 0 1 0 18.4 0a9.2 9.2 0 1 0 -18.4 0zM269.4 739.8a9.2 9.2 0 1 0 18.4 0a9.2 9.2 0 1 0 -18.4 0zM269.8 732a9.2 9.2 0 1 0 18.4 0a9.2 9.2 0 1 0 -18.4 0zM270.3 724.3a9.2 9.2 0 1 0 18.4 0a9.2 9.2 0 1 0 -18.4 0zM271.1 716.6a9.2 9.2 0 1 0 18.4 0a9.2 9.2 0 1 0 -18.4 0zM271.7 709.1a9.2 9.2 0 1 0 18.4 0a9.2 9.2 0 1 0 -18.4 0zM271.4 701.3a9.2 9.2 0 1 0 18.4 0a9.2 9.2 0 1 0 -18.4 0zM271.8 693.6a9.2 9.2 0 1 0 18.4 0a9.2 9.2 0 1 0 -18.4 0zM272.3 685.9a9.2 9.2 0 1 0 18.4 0a9.2 9.2 0 1 0 -18.4 0zM272.8 678.1a9.2 9.2 0 1 0 18.4 0a9.2 9.2 0 1 0 -18.4 0zM273.5 670.4a9.2 9.2 0 1 0 18.4 0a9.2 9.2 0 1 0 -18.4 0zM273.5 662.6a9.2 9.2 0 1 0 18.4 0a9.2 9.2 0 1 0 -18.4 0zM274.1 654.9a9.2 9.2 0 1 0 18.4 0a9.2 9.2 0 1 0 -18.4 0zM274.4 647.2a9.2 9.2 0 1 0 18.4 0a9.2 9.2 0 1 0 -18.4 0zM275.6 639.4a9.2 9.2 0 1 0 18.4 0a9.2 9.2 0 1 0 -18.4 0zM275.7 631.7a9.2 9.2 0 1 0 18.4 0a9.2 9.2 0 1 0 -18.4 0zM275.5 624a9.2 9.2 0 1 0 18.4 0a9.2 9.2 0 1 0 -18.4 0zM276.8 616.2a9.2 9.2 0 1 0 18.4 0a9.2 9.2 0 1 0 -18.4 0zM276.4 608.5a9.2 9.2 0 1 0 18.4 0a9.2 9.2 0 1 0 -18.4 0zM277.1 600.7a9.2 9.2 0 1 0 18.4 0a9.2 9.2 0 1 0 -18.4 0zM278.1 593a9.2 9.2 0 1 0 18.4 0a9.2 9.2 0 1 0 -18.4 0zM278.3 585.3a9.2 9.2 0 1 0 18.4 0a9.2 9.2 0 1 0 -18.4 0zM278.7 577.5a9.2 9.2 0 1 0 18.4 0a9.2 9.2 0 1 0 -18.4 0zM278.8 569.8a9.2 9.2 0 1 0 18.4 0a9.2 9.2 0 1 0 -18.4 0zM279 562a9.2 9.2 0 1 0 18.4 0a9.2 9.2 0 1 0 -18.4 0zM279.8 554.6a9.2 9.2 0 1 0 18.4 0a9.2 9.2 0 1 0 -18.4 0zM279.7 547.1a9.2 9.2 0 1 0 18.4 0a9.2 9.2 0 1 0 -18.4 0zM280.2 539.6a9.2 9.2 0 1 0 18.4 0a9.2 9.2 0 1 0 -18.4 0zM280.8 532.3a9.2 9.2 0 1 0 18.4 0a9.2 9.2 0 1 0 -18.4 0zM280.8 525.1a9.2 9.2 0 1 0 18.4 0a9.2 9.2 0 1 0 -18.4 0zM281.6 517.9a9.2 9.2 0 1 0 18.4 0a9.2 9.2 0 1 0 -18.4 0zM282.3 510.6a9.2 9.2 0 1 0 18.4 0a9.2 9.2 0 1 0 -18.4 0zM282.6 503.6a9.2 9.2 0 1 0 18.4 0a9.2 9.2 0 1 0 -18.4 0zM282.8 496.6a9.2 9.2 0 1 0 18.4 0a9.2 9.2 0 1 0 -18.4 0zM283.3 489.6a9.2 9.2 0 1 0 18.4 0a9.2 9.2 0 1 0 -18.4 0zM283.5 482.9a9.2 9.2 0 1 0 18.4 0a9.2 9.2 0 1 0 -18.4 0zM283.6 476.2a9.2 9.2 0 1 0 18.4 0a9.2 9.2 0 1 0 -18.4 0zM284.6 469.4a9.2 9.2 0 1 0 18.4 0a9.2 9.2 0 1 0 -18.4 0zM284.9 462.7a9.2 9.2 0 1 0 18.4 0a9.2 9.2 0 1 0 -18.4 0zM285.7 456.2a9.2 9.2 0 1 0 18.4 0a9.2 9.2 0 1 0 -18.4 0zM286.3 449.7a9.2 9.2 0 1 0 18.4 0a9.2 9.2 0 1 0 -18.4 0zM286.3 443.3a9.2 9.2 0 1 0 18.4 0a9.2 9.2 0 1 0 -18.4 0zM286.9 436.8a9.2 9.2 0 1 0 18.4 0a9.2 9.2 0 1 0 -18.4 0zM287.5 430.5a9.2 9.2 0 1 0 18.4 0a9.2 9.2 0 1 0 -18.4 0zM287.6 424.3a9.2 9.2 0 1 0 18.4 0a9.2 9.2 0 1 0 -18.4 0zM287.9 418.1a9.2 9.2 0 1 0 18.4 0a9.2 9.2 0 1 0 -18.4 0zM288.8 411.8a9.2 9.2 0 1 0 18.4 0a9.2 9.2 0 1 0 -18.4 0zM289.5 405.9a9.2 9.2 0 1 0 18.4 0a9.2 9.2 0 1 0 -18.4 0zM289.9 399.9a9.2 9.2 0 1 0 18.4 0a9.2 9.2 0 1 0 -18.4 0zM290.3 393.9a9.2 9.2 0 1 0 18.4 0a9.2 9.2 0 1 0 -18.4 0zM291 387.9a9.2 9.2 0 1 0 18.4 0a9.2 9.2 0 1 0 -18.4 0zM291.3 382.2a9.2 9.2 0 1 0 18.4 0a9.2 9.2 0 1 0 -18.4 0zM291.8 376.5a9.2 9.2 0 1 0 18.4 0a9.2 9.2 0 1 0 -18.4 0zM292 370.7a9.2 9.2 0 1 0 18.4 0a9.2 9.2 0 1 0 -18.4 0zM292.4 365a9.2 9.2 0 1 0 18.4 0a9.2 9.2 0 1 0 -18.4 0zM293.2 359.5a9.2 9.2 0 1 0 18.4 0a9.2 9.2 0 1 0 -18.4 0zM293.1 354a9.2 9.2 0 1 0 18.4 0a9.2 9.2 0 1 0 -18.4 0zM293.9 348.6a9.2 9.2 0 1 0 18.4 0a9.2 9.2 0 1 0 -18.4 0zM294.7 343.1a9.2 9.2 0 1 0 18.4 0a9.2 9.2 0 1 0 -18.4 0zM295.1 337.6a9.2 9.2 0 1 0 18.4 0a9.2 9.2 0 1 0 -18.4 0zM295.5 332.4a9.2 9.2 0 1 0 18.4 0a9.2 9.2 0 1 0 -18.4 0zM295.5 327.1a9.2 9.2 0 1 0 18.4 0a9.2 9.2 0 1 0 -18.4 0zM296.2 321.9a9.2 9.2 0 1 0 18.4 0a9.2 9.2 0 1 0 -18.4 0zM296.8 316.7a9.2 9.2 0 1 0 18.4 0a9.2 9.2 0 1 0 -18.4 0zM297.4 311.5a9.2 9.2 0 1 0 18.4 0a9.2 9.2 0 1 0 -18.4 0zM297.7 306.5a9.2 9.2 0 1 0 18.4 0a9.2 9.2 0 1 0 -18.4 0zM298.4 301.5a9.2 9.2 0 1 0 18.4 0a9.2 9.2 0 1 0 -18.4 0zM299.2 296.5a9.2 9.2 0 1 0 18.4 0a9.2 9.2 0 1 0 -18.4 0zM299.1 291.6a9.2 9.2 0 1 0 18.4 0a9.2 9.2 0 1 0 -18.4 0zM300.3 286.6a9.2 9.2 0 1 0 18.4 0a9.2 9.2 0 1 0 -18.4 0zM301.1 281.9a9.2 9.2 0 1 0 18.4 0a9.2 9.2 0 1 0 -18.4 0zM301.4 277.2a9.2 9.2 0 1 0 18.4 0a9.2 9.2 0 1 0 -18.4 0zM302.2 272.5a9.2 9.2 0 1 0 18.4 0a9.2 9.2 0 1 0 -18.4 0zM303.4 267.8a9.2 9.2 0 1 0 18.4 0a9.2 9.2 0 1 0 -18.4 0zM303.1 263.1a9.2 9.2 0 1 0 18.4 0a9.2 9.2 0 1 0 -18.4 0zM304.3 258.4a9.2 9.2 0 1 0 18.4 0a9.2 9.2 0 1 0 -18.4 0zM304.7 255.5a9.2 9.2 0 1 0 18.4 0a9.2 9.2 0 1 0 -18.4 0zM321.8 262.5a9.2 9.2 0 1 0 18.4 0a9.2 9.2 0 1 0 -18.4 0zM318.9 282.7a9.2 9.2 0 1 0 18.4 0a9.2 9.2 0 1 0 -18.4 0zM320.3 304.5a9.2 9.2 0 1 0 18.4 0a9.2 9.2 0 1 0 -18.4 0zM319.8 330.7a9.2 9.2 0 1 0 18.4 0a9.2 9.2 0 1 0 -18.4 0zM319.4 357.9a9.2 9.2 0 1 0 18.4 0a9.2 9.2 0 1 0 -18.4 0zM318.9 385.5a9.2 9.2 0 1 0 18.4 0a9.2 9.2 0 1 0 -18.4 0zM317.1 413.2a9.2 9.2 0 1 0 18.4 0a9.2 9.2 0 1 0 -18.4 0zM315.8 440.9a9.2 9.2 0 1 0 18.4 0a9.2 9.2 0 1 0 -18.4 0zM314 468.5a9.2 9.2 0 1 0 18.4 0a9.2 9.2 0 1 0 -18.4 0zM311.8 494.6a9.2 9.2 0 1 0 18.4 0a9.2 9.2 0 1 0 -18.4 0zM310.3 510.4a9.2 9.2 0 1 0 18.4 0a9.2 9.2 0 1 0 -18.4 0zM310.8 512a9.2 9.2 0 1 0 18.4 0a9.2 9.2 0 1 0 -18.4 0zM309.9 514.1a9.2 9.2 0 1 0 18.4 0a9.2 9.2 0 1 0 -18.4 0zM310.1 516.3a9.2 9.2 0 1 0 18.4 0a9.2 9.2 0 1 0 -18.4 0zM309.9 518.2a9.2 9.2 0 1 0 18.4 0a9.2 9.2 0 1 0 -18.4 0zM310 520a9.2 9.2 0 1 0 18.4 0a9.2 9.2 0 1 0 -18.4 0zM309.5 522.6a9.2 9.2 0 1 0 18.4 0a9.2 9.2 0 1 0 -18.4 0zM309.1 524.2a9.2 9.2 0 1 0 18.4 0a9.2 9.2 0 1 0 -18.4 0zM309.1 526.3a9.2 9.2 0 1 0 18.4 0a9.2 9.2 0 1 0 -18.4 0zM308.7 528.6a9.2 9.2 0 1 0 18.4 0a9.2 9.2 0 1 0 -18.4 0zM308.7 529.3a9.2 9.2 0 1 0 18.4 0a9.2 9.2 0 1 0 -18.4 0zM308.5 531.8a9.2 9.2 0 1 0 18.4 0a9.2 9.2 0 1 0 -18.4 0zM308.1 533.8a9.2 9.2 0 1 0 18.4 0a9.2 9.2 0 1 0 -18.4 0zM308.3 536.2a9.2 9.2 0 1 0 18.4 0a9.2 9.2 0 1 0 -18.4 0zM308.1 537.6a9.2 9.2 0 1 0 18.4 0a9.2 9.2 0 1 0 -18.4 0zM307.8 540.2a9.2 9.2 0 1 0 18.4 0a9.2 9.2 0 1 0 -18.4 0zM308.2 541.9a9.2 9.2 0 1 0 18.4 0a9.2 9.2 0 1 0 -18.4 0zM307.5 544.3a9.2 9.2 0 1 0 18.4 0a9.2 9.2 0 1 0 -18.4 0zM307.5 545.5a9.2 9.2 0 1 0 18.4 0a9.2 9.2 0 1 0 -18.4 0zM307.2 548.3a9.2 9.2 0 1 0 18.4 0a9.2 9.2 0 1 0 -18.4 0zM307.6 550.1a9.2 9.2 0 1 0 18.4 0a9.2 9.2 0 1 0 -18.4 0zM307.1 551.9a9.2 9.2 0 1 0 18.4 0a9.2 9.2 0 1 0 -18.4 0zM306.8 554.5a9.2 9.2 0 1 0 18.4 0a9.2 9.2 0 1 0 -18.4 0zM306.8 556a9.2 9.2 0 1 0 18.4 0a9.2 9.2 0 1 0 -18.4 0zM307 558.3a9.2 9.2 0 1 0 18.4 0a9.2 9.2 0 1 0 -18.4 0zM306.6 559.6a9.2 9.2 0 1 0 18.4 0a9.2 9.2 0 1 0 -18.4 0zM306.5 561.3a9.2 9.2 0 1 0 18.4 0a9.2 9.2 0 1 0 -18.4 0zM306.7 563.6a9.2 9.2 0 1 0 18.4 0a9.2 9.2 0 1 0 -18.4 0zM306.6 565.5a9.2 9.2 0 1 0 18.4 0a9.2 9.2 0 1 0 -18.4 0zM306.1 567.5a9.2 9.2 0 1 0 18.4 0a9.2 9.2 0 1 0 -18.4 0zM306 569.4a9.2 9.2 0 1 0 18.4 0a9.2 9.2 0 1 0 -18.4 0zM305.5 572.1a9.2 9.2 0 1 0 18.4 0a9.2 9.2 0 1 0 -18.4 0zM305.7 573.5a9.2 9.2 0 1 0 18.4 0a9.2 9.2 0 1 0 -18.4 0zM305.6 575.8a9.2 9.2 0 1 0 18.4 0a9.2 9.2 0 1 0 -18.4 0zM305.6 578a9.2 9.2 0 1 0 18.4 0a9.2 9.2 0 1 0 -18.4 0zM305.7 579.6a9.2 9.2 0 1 0 18.4 0a9.2 9.2 0 1 0 -18.4 0zM305.9 582.3a9.2 9.2 0 1 0 18.4 0a9.2 9.2 0 1 0 -18.4 0zM305.1 584.3a9.2 9.2 0 1 0 18.4 0a9.2 9.2 0 1 0 -18.4 0zM305.8 586.2a9.2 9.2 0 1 0 18.4 0a9.2 9.2 0 1 0 -18.4 0zM305.1 588.3a9.2 9.2 0 1 0 18.4 0a9.2 9.2 0 1 0 -18.4 0zM305.5 589.1a9.2 9.2 0 1 0 18.4 0a9.2 9.2 0 1 0 -18.4 0zM305 592.4a9.2 9.2 0 1 0 18.4 0a9.2 9.2 0 1 0 -18.4 0zM305.4 593.5a9.2 9.2 0 1 0 18.4 0a9.2 9.2 0 1 0 -18.4 0zM306.8 593.6a9.2 9.2 0 1 0 18.4 0a9.2 9.2 0 1 0 -18.4 0zM308.9 594.6a9.2 9.2 0 1 0 18.4 0a9.2 9.2 0 1 0 -18.4 0zM311 593.9a9.2 9.2 0 1 0 18.4 0a9.2 9.2 0 1 0 -18.4 0zM313.4 594.9a9.2 9.2 0 1 0 18.4 0a9.2 9.2 0 1 0 -18.4 0zM314.8 594.7a9.2 9.2 0 1 0 18.4 0a9.2 9.2 0 1 0 -18.4 0zM317.1 594.3a9.2 9.2 0 1 0 18.4 0a9.2 9.2 0 1 0 -18.4 0zM319.2 594.2a9.2 9.2 0 1 0 18.4 0a9.2 9.2 0 1 0 -18.4 0zM321.2 593.8a9.2 9.2 0 1 0 18.4 0a9.2 9.2 0 1 0 -18.4 0zM322.8 593.4a9.2 9.2 0 1 0 18.4 0a9.2 9.2 0 1 0 -18.4 0zM325 593.3a9.2 9.2 0 1 0 18.4 0a9.2 9.2 0 1 0 -18.4 0zM326.9 593.4a9.2 9.2 0 1 0 18.4 0a9.2 9.2 0 1 0 -18.4 0zM329 592.4a9.2 9.2 0 1 0 18.4 0a9.2 9.2 0 1 0 -18.4 0zM330.8 592.1a9.2 9.2 0 1 0 18.4 0a9.2 9.2 0 1 0 -18.4 0zM333 591.9a9.2 9.2 0 1 0 18.4 0a9.2 9.2 0 1 0 -18.4 0zM334.9 591.9a9.2 9.2 0 1 0 18.4 0a9.2 9.2 0 1 0 -18.4 0zM337 592.2a9.2 9.2 0 1 0 18.4 0a9.2 9.2 0 1 0 -18.4 0zM339 592.6a9.2 9.2 0 1 0 18.4 0a9.2 9.2 0 1 0 -18.4 0zM340.6 592.5a9.2 9.2 0 1 0 18.4 0a9.2 9.2 0 1 0 -18.4 0zM342.9 592a9.2 9.2 0 1 0 18.4 0a9.2 9.2 0 1 0 -18.4 0zM345.1 592.3a9.2 9.2 0 1 0 18.4 0a9.2 9.2 0 1 0 -18.4 0zM346.9 591.6a9.2 9.2 0 1 0 18.4 0a9.2 9.2 0 1 0 -18.4 0zM349.3 591a9.2 9.2 0 1 0 18.4 0a9.2 9.2 0 1 0 -18.4 0zM351.1 591.7a9.2 9.2 0 1 0 18.4 0a9.2 9.2 0 1 0 -18.4 0zM352.6 591.6a9.2 9.2 0 1 0 18.4 0a9.2 9.2 0 1 0 -18.4 0zM355.1 592a9.2 9.2 0 1 0 18.4 0a9.2 9.2 0 1 0 -18.4 0zM356.8 591.9a9.2 9.2 0 1 0 18.4 0a9.2 9.2 0 1 0 -18.4 0zM359 591.2a9.2 9.2 0 1 0 18.4 0a9.2 9.2 0 1 0 -18.4 0zM361.3 590.4a9.2 9.2 0 1 0 18.4 0a9.2 9.2 0 1 0 -18.4 0zM363.1 591.2a9.2 9.2 0 1 0 18.4 0a9.2 9.2 0 1 0 -18.4 0zM364.8 591.6a9.2 9.2 0 1 0 18.4 0a9.2 9.2 0 1 0 -18.4 0zM366.8 591.1a9.2 9.2 0 1 0 18.4 0a9.2 9.2 0 1 0 -18.4 0zM369 591.6a9.2 9.2 0 1 0 18.4 0a9.2 9.2 0 1 0 -18.4 0zM370.7 591.2a9.2 9.2 0 1 0 18.4 0a9.2 9.2 0 1 0 -18.4 0zM372.9 591.5a9.2 9.2 0 1 0 18.4 0a9.2 9.2 0 1 0 -18.4 0zM375.2 591.2a9.2 9.2 0 1 0 18.4 0a9.2 9.2 0 1 0 -18.4 0zM377.2 591.4a9.2 9.2 0 1 0 18.4 0a9.2 9.2 0 1 0 -18.4 0zM378.9 591.3a9.2 9.2 0 1 0 18.4 0a9.2 9.2 0 1 0 -18.4 0zM380.9 592.3a9.2 9.2 0 1 0 18.4 0a9.2 9.2 0 1 0 -18.4 0zM383 592.1a9.2 9.2 0 1 0 18.4 0a9.2 9.2 0 1 0 -18.4 0zM384.8 591.5a9.2 9.2 0 1 0 18.4 0a9.2 9.2 0 1 0 -18.4 0zM386.8 592a9.2 9.2 0 1 0 18.4 0a9.2 9.2 0 1 0 -18.4 0zM389 592.3a9.2 9.2 0 1 0 18.4 0a9.2 9.2 0 1 0 -18.4 0zM390.5 592.3a9.2 9.2 0 1 0 18.4 0a9.2 9.2 0 1 0 -18.4 0zM393.1 592.7a9.2 9.2 0 1 0 18.4 0a9.2 9.2 0 1 0 -18.4 0zM394.4 592.9a9.2 9.2 0 1 0 18.4 0a9.2 9.2 0 1 0 -18.4 0zM396.3 593.3a9.2 9.2 0 1 0 18.4 0a9.2 9.2 0 1 0 -18.4 0zM398.9 594.5a9.2 9.2 0 1 0 18.4 0a9.2 9.2 0 1 0 -18.4 0zM400.6 595.3a9.2 9.2 0 1 0 18.4 0a9.2 9.2 0 1 0 -18.4 0zM402.6 595.9a9.2 9.2 0 1 0 18.4 0a9.2 9.2 0 1 0 -18.4 0zM404.2 596.8a9.2 9.2 0 1 0 18.4 0a9.2 9.2 0 1 0 -18.4 0zM406 597.7a9.2 9.2 0 1 0 18.4 0a9.2 9.2 0 1 0 -18.4 0zM407.8 598a9.2 9.2 0 1 0 18.4 0a9.2 9.2 0 1 0 -18.4 0zM409.6 599.3a9.2 9.2 0 1 0 18.4 0a9.2 9.2 0 1 0 -18.4 0zM411.5 599.6a9.2 9.2 0 1 0 18.4 0a9.2 9.2 0 1 0 -18.4 0zM412.8 600.4a9.2 9.2 0 1 0 18.4 0a9.2 9.2 0 1 0 -18.4 0zM415.1 602.4a9.2 9.2 0 1 0 18.4 0a9.2 9.2 0 1 0 -18.4 0zM416.9 602.5a9.2 9.2 0 1 0 18.4 0a9.2 9.2 0 1 0 -18.4 0zM418.8 603.9a9.2 9.2 0 1 0 18.4 0a9.2 9.2 0 1 0 -18.4 0zM420.4 604a9.2 9.2 0 1 0 18.4 0a9.2 9.2 0 1 0 -18.4 0zM422.2 604.5a9.2 9.2 0 1 0 18.4 0a9.2 9.2 0 1 0 -18.4 0zM424.2 604.7a9.2 9.2 0 1 0 18.4 0a9.2 9.2 0 1 0 -18.4 0zM426.4 605.5a9.2 9.2 0 1 0 18.4 0a9.2 9.2 0 1 0 -18.4 0zM428 605.2a9.2 9.2 0 1 0 18.4 0a9.2 9.2 0 1 0 -18.4 0zM429.9 604.7a9.2 9.2 0 1 0 18.4 0a9.2 9.2 0 1 0 -18.4 0zM432.5 605.5a9.2 9.2 0 1 0 18.4 0a9.2 9.2 0 1 0 -18.4 0zM434.6 605.4a9.2 9.2 0 1 0 18.4 0a9.2 9.2 0 1 0 -18.4 0zM435.9 605.5a9.2 9.2 0 1 0 18.4 0a9.2 9.2 0 1 0 -18.4 0zM438.4 606.4a9.2 9.2 0 1 0 18.4 0a9.2 9.2 0 1 0 -18.4 0zM440.7 605.9a9.2 9.2 0 1 0 18.4 0a9.2 9.2 0 1 0 -18.4 0zM442.2 605.4a9.2 9.2 0 1 0 18.4 0a9.2 9.2 0 1 0 -18.4 0zM444.4 605.6a9.2 9.2 0 1 0 18.4 0a9.2 9.2 0 1 0 -18.4 0zM446 605.3a9.2 9.2 0 1 0 18.4 0a9.2 9.2 0 1 0 -18.4 0zM447.9 606.3a9.2 9.2 0 1 0 18.4 0a9.2 9.2 0 1 0 -18.4 0zM450 606.7a9.2 9.2 0 1 0 18.4 0a9.2 9.2 0 1 0 -18.4 0zM451.9 606.5a9.2 9.2 0 1 0 18.4 0a9.2 9.2 0 1 0 -18.4 0zM454 605.3a9.2 9.2 0 1 0 18.4 0a9.2 9.2 0 1 0 -18.4 0zM456.5 605.6a9.2 9.2 0 1 0 18.4 0a9.2 9.2 0 1 0 -18.4 0zM458.5 605.6a9.2 9.2 0 1 0 18.4 0a9.2 9.2 0 1 0 -18.4 0zM459.9 606.4a9.2 9.2 0 1 0 18.4 0a9.2 9.2 0 1 0 -18.4 0zM462.4 606.5a9.2 9.2 0 1 0 18.4 0a9.2 9.2 0 1 0 -18.4 0zM464.5 605.4a9.2 9.2 0 1 0 18.4 0a9.2 9.2 0 1 0 -18.4 0zM466.4 606.3a9.2 9.2 0 1 0 18.4 0a9.2 9.2 0 1 0 -18.4 0zM468.2 606.6a9.2 9.2 0 1 0 18.4 0a9.2 9.2 0 1 0 -18.4 0zM470.1 606.7a9.2 9.2 0 1 0 18.4 0a9.2 9.2 0 1 0 -18.4 0zM472.5 605.3a9.2 9.2 0 1 0 18.4 0a9.2 9.2 0 1 0 -18.4 0zM473.9 606.2a9.2 9.2 0 1 0 18.4 0a9.2 9.2 0 1 0 -18.4 0zM476.5 605.4a9.2 9.2 0 1 0 18.4 0a9.2 9.2 0 1 0 -18.4 0zM478.1 606.3a9.2 9.2 0 1 0 18.4 0a9.2 9.2 0 1 0 -18.4 0zM480 606.6a9.2 9.2 0 1 0 18.4 0a9.2 9.2 0 1 0 -18.4 0zM482.3 605.5a9.2 9.2 0 1 0 18.4 0a9.2 9.2 0 1 0 -18.4 0zM484.2 606.3a9.2 9.2 0 1 0 18.4 0a9.2 9.2 0 1 0 -18.4 0zM486.2 606.5a9.2 9.2 0 1 0 18.4 0a9.2 9.2 0 1 0 -18.4 0zM488 606.8a9.2 9.2 0 1 0 18.4 0a9.2 9.2 0 1 0 -18.4 0zM490.2 606.6a9.2 9.2 0 1 0 18.4 0a9.2 9.2 0 1 0 -18.4 0zM492.4 606.4a9.2 9.2 0 1 0 18.4 0a9.2 9.2 0 1 0 -18.4 0zM494.2 607a9.2 9.2 0 1 0 18.4 0a9.2 9.2 0 1 0 -18.4 0zM496.6 607a9.2 9.2 0 1 0 18.4 0a9.2 9.2 0 1 0 -18.4 0zM498.3 606.4a9.2 9.2 0 1 0 18.4 0a9.2 9.2 0 1 0 -18.4 0zM499.9 607.5a9.2 9.2 0 1 0 18.4 0a9.2 9.2 0 1 0 -18.4 0zM502.4 607.3a9.2 9.2 0 1 0 18.4 0a9.2 9.2 0 1 0 -18.4 0zM504.1 607.1a9.2 9.2 0 1 0 18.4 0a9.2 9.2 0 1 0 -18.4 0zM506.6 607.5a9.2 9.2 0 1 0 18.4 0a9.2 9.2 0 1 0 -18.4 0zM508.3 606.7a9.2 9.2 0 1 0 18.4 0a9.2 9.2 0 1 0 -18.4 0zM510.2 607.5a9.2 9.2 0 1 0 18.4 0a9.2 9.2 0 1 0 -18.4 0zM512.2 607.3a9.2 9.2 0 1 0 18.4 0a9.2 9.2 0 1 0 -18.4 0zM514.3 607.6a9.2 9.2 0 1 0 18.4 0a9.2 9.2 0 1 0 -18.4 0zM516.5 606.7a9.2 9.2 0 1 0 18.4 0a9.2 9.2 0 1 0 -18.4 0zM517.9 606.7a9.2 9.2 0 1 0 18.4 0a9.2 9.2 0 1 0 -18.4 0zM520.2 607.1a9.2 9.2 0 1 0 18.4 0a9.2 9.2 0 1 0 -18.4 0zM522.5 607.5a9.2 9.2 0 1 0 18.4 0a9.2 9.2 0 1 0 -18.4 0zM523.9 607.5a9.2 9.2 0 1 0 18.4 0a9.2 9.2 0 1 0 -18.4 0zM526.5 607.5a9.2 9.2 0 1 0 18.4 0a9.2 9.2 0 1 0 -18.4 0zM528.3 606.7a9.2 9.2 0 1 0 18.4 0a9.2 9.2 0 1 0 -18.4 0zM530.5 607.4a9.2 9.2 0 1 0 18.4 0a9.2 9.2 0 1 0 -18.4 0zM532.4 607.6a9.2 9.2 0 1 0 18.4 0a9.2 9.2 0 1 0 -18.4 0zM534.1 606.4a9.2 9.2 0 1 0 18.4 0a9.2 9.2 0 1 0 -18.4 0zM536.3 607.4a9.2 9.2 0 1 0 18.4 0a9.2 9.2 0 1 0 -18.4 0zM538 607.4a9.2 9.2 0 1 0 18.4 0a9.2 9.2 0 1 0 -18.4 0zM540.6 606.6a9.2 9.2 0 1 0 18.4 0a9.2 9.2 0 1 0 -18.4 0zM542.3 607.1a9.2 9.2 0 1 0 18.4 0a9.2 9.2 0 1 0 -18.4 0zM544.2 606.1a9.2 9.2 0 1 0 18.4 0a9.2 9.2 0 1 0 -18.4 0zM546 606.6a9.2 9.2 0 1 0 18.4 0a9.2 9.2 0 1 0 -18.4 0zM548.4 605.9a9.2 9.2 0 1 0 18.4 0a9.2 9.2 0 1 0 -18.4 0zM549.8 606.2a9.2 9.2 0 1 0 18.4 0a9.2 9.2 0 1 0 -18.4 0zM552.4 605.1a9.2 9.2 0 1 0 18.4 0a9.2 9.2 0 1 0 -18.4 0zM554.2 605.7a9.2 9.2 0 1 0 18.4 0a9.2 9.2 0 1 0 -18.4 0zM556.4 604.9a9.2 9.2 0 1 0 18.4 0a9.2 9.2 0 1 0 -18.4 0zM558.1 604.8a9.2 9.2 0 1 0 18.4 0a9.2 9.2 0 1 0 -18.4 0zM559.8 603.9a9.2 9.2 0 1 0 18.4 0a9.2 9.2 0 1 0 -18.4 0zM561.8 604.4a9.2 9.2 0 1 0 18.4 0a9.2 9.2 0 1 0 -18.4 0zM563.9 604.4a9.2 9.2 0 1 0 18.4 0a9.2 9.2 0 1 0 -18.4 0zM565.9 604.7a9.2 9.2 0 1 0 18.4 0a9.2 9.2 0 1 0 -18.4 0zM567.6 604.5a9.2 9.2 0 1 0 18.4 0a9.2 9.2 0 1 0 -18.4 0zM570.3 605.4a9.2 9.2 0 1 0 18.4 0a9.2 9.2 0 1 0 -18.4 0zM571.5 606.2a9.2 9.2 0 1 0 18.4 0a9.2 9.2 0 1 0 -18.4 0zM573.9 606.3a9.2 9.2 0 1 0 18.4 0a9.2 9.2 0 1 0 -18.4 0zM575.6 607.4a9.2 9.2 0 1 0 18.4 0a9.2 9.2 0 1 0 -18.4 0zM577.4 607.7a9.2 9.2 0 1 0 18.4 0a9.2 9.2 0 1 0 -18.4 0zM578.8 609.9a9.2 9.2 0 1 0 18.4 0a9.2 9.2 0 1 0 -18.4 0zM581.3 609.9a9.2 9.2 0 1 0 18.4 0a9.2 9.2 0 1 0 -18.4 0zM582.9 610.4a9.2 9.2 0 1 0 18.4 0a9.2 9.2 0 1 0 -18.4 0zM584.9 611.4a9.2 9.2 0 1 0 18.4 0a9.2 9.2 0 1 0 -18.4 0zM586.9 612.6a9.2 9.2 0 1 0 18.4 0a9.2 9.2 0 1 0 -18.4 0zM588.8 613.4a9.2 9.2 0 1 0 18.4 0a9.2 9.2 0 1 0 -18.4 0zM590.2 612.6a9.2 9.2 0 1 0 18.4 0a9.2 9.2 0 1 0 -18.4 0zM592.1 613.4a9.2 9.2 0 1 0 18.4 0a9.2 9.2 0 1 0 -18.4 0zM593.9 613.7a9.2 9.2 0 1 0 18.4 0a9.2 9.2 0 1 0 -18.4 0zM596.3 615.4a9.2 9.2 0 1 0 18.4 0a9.2 9.2 0 1 0 -18.4 0zM598.1 616.1a9.2 9.2 0 1 0 18.4 0a9.2 9.2 0 1 0 -18.4 0zM600.4 615.4a9.2 9.2 0 1 0 18.4 0a9.2 9.2 0 1 0 -18.4 0zM602.1 616.4a9.2 9.2 0 1 0 18.4 0a9.2 9.2 0 1 0 -18.4 0zM603.6 617.7a9.2 9.2 0 1 0 18.4 0a9.2 9.2 0 1 0 -18.4 0zM605.7 617.4a9.2 9.2 0 1 0 18.4 0a9.2 9.2 0 1 0 -18.4 0zM608 618.3a9.2 9.2 0 1 0 18.4 0a9.2 9.2 0 1 0 -18.4 0zM610 617.9a9.2 9.2 0 1 0 18.4 0a9.2 9.2 0 1 0 -18.4 0zM611.8 617.9a9.2 9.2 0 1 0 18.4 0a9.2 9.2 0 1 0 -18.4 0zM614.2 619.1a9.2 9.2 0 1 0 18.4 0a9.2 9.2 0 1 0 -18.4 0zM615.6 617.6a9.2 9.2 0 1 0 18.4 0a9.2 9.2 0 1 0 -18.4 0zM617.6 617.9a9.2 9.2 0 1 0 18.4 0a9.2 9.2 0 1 0 -18.4 0zM620.1 618.5a9.2 9.2 0 1 0 18.4 0a9.2 9.2 0 1 0 -18.4 0zM622 617.1a9.2 9.2 0 1 0 18.4 0a9.2 9.2 0 1 0 -18.4 0zM624 617.9a9.2 9.2 0 1 0 18.4 0a9.2 9.2 0 1 0 -18.4 0zM625.9 618.1a9.2 9.2 0 1 0 18.4 0a9.2 9.2 0 1 0 -18.4 0zM627.4 616.8a9.2 9.2 0 1 0 18.4 0a9.2 9.2 0 1 0 -18.4 0zM629.9 617.7a9.2 9.2 0 1 0 18.4 0a9.2 9.2 0 1 0 -18.4 0zM631.9 616.5a9.2 9.2 0 1 0 18.4 0a9.2 9.2 0 1 0 -18.4 0zM633.8 616.8a9.2 9.2 0 1 0 18.4 0a9.2 9.2 0 1 0 -18.4 0zM635.3 615.9a9.2 9.2 0 1 0 18.4 0a9.2 9.2 0 1 0 -18.4 0zM637.4 615.2a9.2 9.2 0 1 0 18.4 0a9.2 9.2 0 1 0 -18.4 0zM639.6 614.9a9.2 9.2 0 1 0 18.4 0a9.2 9.2 0 1 0 -18.4 0zM641.3 614.5a9.2 9.2 0 1 0 18.4 0a9.2 9.2 0 1 0 -18.4 0zM643.7 614a9.2 9.2 0 1 0 18.4 0a9.2 9.2 0 1 0 -18.4 0zM645.7 613.9a9.2 9.2 0 1 0 18.4 0a9.2 9.2 0 1 0 -18.4 0zM647.1 614.5a9.2 9.2 0 1 0 18.4 0a9.2 9.2 0 1 0 -18.4 0zM649.2 614.2a9.2 9.2 0 1 0 18.4 0a9.2 9.2 0 1 0 -18.4 0zM651.7 613.7a9.2 9.2 0 1 0 18.4 0a9.2 9.2 0 1 0 -18.4 0zM653.1 612.7a9.2 9.2 0 1 0 18.4 0a9.2 9.2 0 1 0 -18.4 0zM655 613.1a9.2 9.2 0 1 0 18.4 0a9.2 9.2 0 1 0 -18.4 0zM657.6 612.3a9.2 9.2 0 1 0 18.4 0a9.2 9.2 0 1 0 -18.4 0zM659.2 611.6a9.2 9.2 0 1 0 18.4 0a9.2 9.2 0 1 0 -18.4 0zM661.5 611.5a9.2 9.2 0 1 0 18.4 0a9.2 9.2 0 1 0 -18.4 0zM663.3 610.8a9.2 9.2 0 1 0 18.4 0a9.2 9.2 0 1 0 -18.4 0zM665 610.4a9.2 9.2 0 1 0 18.4 0a9.2 9.2 0 1 0 -18.4 0zM667.4 610.8a9.2 9.2 0 1 0 18.4 0a9.2 9.2 0 1 0 -18.4 0zM668.9 611a9.2 9.2 0 1 0 18.4 0a9.2 9.2 0 1 0 -18.4 0zM671 610.1a9.2 9.2 0 1 0 18.4 0a9.2 9.2 0 1 0 -18.4 0zM672.9 609.7a9.2 9.2 0 1 0 18.4 0a9.2 9.2 0 1 0 -18.4 0zM675.4 609.5a9.2 9.2 0 1 0 18.4 0a9.2 9.2 0 1 0 -18.4 0zM676.8 609.5a9.2 9.2 0 1 0 18.4 0a9.2 9.2 0 1 0 -18.4 0zM679 609.8a9.2 9.2 0 1 0 18.4 0a9.2 9.2 0 1 0 -18.4 0zM680.8 609.7a9.2 9.2 0 1 0 18.4 0a9.2 9.2 0 1 0 -18.4 0zM682.7 610a9.2 9.2 0 1 0 18.4 0a9.2 9.2 0 1 0 -18.4 0zM685.1 609.5a9.2 9.2 0 1 0 18.4 0a9.2 9.2 0 1 0 -18.4 0zM686.9 610.1a9.2 9.2 0 1 0 18.4 0a9.2 9.2 0 1 0 -18.4 0zM688.7 610.4a9.2 9.2 0 1 0 18.4 0a9.2 9.2 0 1 0 -18.4 0zM690.4 612.5a9.2 9.2 0 1 0 18.4 0a9.2 9.2 0 1 0 -18.4 0zM692.1 614a9.2 9.2 0 1 0 18.4 0a9.2 9.2 0 1 0 -18.4 0zM692.6 614.7a9.2 9.2 0 1 0 18.4 0a9.2 9.2 0 1 0 -18.4 0zM694.4 616a9.2 9.2 0 1 0 18.4 0a9.2 9.2 0 1 0 -18.4 0zM695.2 618.1a9.2 9.2 0 1 0 18.4 0a9.2 9.2 0 1 0 -18.4 0zM696.3 619.5a9.2 9.2 0 1 0 18.4 0a9.2 9.2 0 1 0 -18.4 0zM696.7 621.8a9.2 9.2 0 1 0 18.4 0a9.2 9.2 0 1 0 -18.4 0zM696.5 623.3a9.2 9.2 0 1 0 18.4 0a9.2 9.2 0 1 0 -18.4 0zM697.4 626a9.2 9.2 0 1 0 18.4 0a9.2 9.2 0 1 0 -18.4 0zM697 626.9a9.2 9.2 0 1 0 18.4 0a9.2 9.2 0 1 0 -18.4 0z"/>
<path fill="none" stroke="#000" stroke-width="1.1" d="M338.4 293.8L338.6 295.2M348.4 347.2L348.6 348.2M360.1 422.9L360.2 424.5"/>
<path fill="#0f0" shape-rendering="crispEdges" d="M252.2 1414.5l10.8 18h-21.6zM251.8 1407l10.8 18h-21.6zM252.4 1399.3l10.8 18h-21.6zM252.2 1391.5l10.8 18h-21.6zM252.4 1383.8l10.8 18h-21.6zM253.3 1376l10.8 18h-21.6zM253.5 1368.3l10.8 18h-21.6zM253.2 1360.5l10.8 18h-21.6zM253.3 1352.8l10.8 18h-21.6zM253.6 1345l10.8 18h-21.6zM254.3 1337.3l10.8 18h-21.6zM254.5 1329.5l10.8 18h-21.6zM254.5 1321.8l10.8 18h-21.6zM254.7 1314l10.8 18h-21.6zM255.3 1306.3l10.8 18h-21.6zM255.7 1298.8l10.8 18h-21.6zM256 1291.3l10.8 18h-21.6zM256 1283.8l10.8 18h-21.6zM255.9 1276.1l10.8 18h-21.6zM256 1268.3l10.8 18h-21.6zM256.9 1260.6l10.8 18h-21.6zM256.8 1252.8l10.8 18h-21.6zM257.4 1245.1l10.8 18h-21.6zM256.9 1237.6l10.8 18h-21.6zM257.9 1230.1l10.8 18h-21.6zM257.7 1222.6l10.8 18h-21.6zM258.4 1214.8l10.8 18h-21.6zM258.7 1207.1l10.8 18h-21.6zM258.6 1199.4l10.8 18h-21.6zM258.3 1191.6l10.8 18h-21.6zM259.5 1183.9l10.8 18h-21.6zM259.3 1176.1l10.8 18h-21.6zM259.9 1168.4l10.8 18h-21.6zM259.6 1160.9l10.8 18h-21.6zM259.7 1153.4l10.8 18h-21.6zM260.6 1145.9l10.8 18h-21.6zM260.4 1138.1l10.8 18h-21.6zM260.4 1130.4l10.8 18h-21.6zM260.9 1122.9l10.8 18h-21.6zM261.3 1115.4l10.8 18h-21.6zM261 1107.9l10.8 18h-21.6zM261.7 1100.4l10.8 18h-21.6zM261.9 1092.7l10.8 18h-21.6zM262.3 1084.9l10.8 18h-21.6zM262.2 1077.4l10.8 18h-21.6zM263.1 1069.7l10.8 18h-21.6zM263.6 1062.2l10.8 18h-21.6zM264 1054.4l10.8 18h-21.6zM263.8 1047l10.8 18h-21.6zM264.5 1039.2l10.8 18h-21.6zM264.5 1031.7l10.8 18h-21.6zM265.2 1024l10.8 18h-21.6zM264.8 1016.5l10.8 18h-21.6zM266 1008.7l10.8 18h-21.6zM266.4 1001l10.8 18h-21.6zM266.3 993.3l10.8 18h-21.6zM266.6 985.5l10.8 18h-21.6zM267 977.8l10.8 18h-21.6zM267.3 970l10.8 18h-21.6zM267.2 962.3l10.8 18h-21.6zM268.5 954.5l10.8 18h-21.6zM268 946.8l10.8 18h-21.6zM268.3 939.3l10.8 18h-21.6zM268.6 931.6l10.8 18h-21.6zM269.1 924.1l10.8 18h-21.6zM270 916.3l10.8 18h-21.6zM269.5 908.8l10.8 18h-21.6zM269.9 901.3l10.8 18h-21.6zM270.8 893.6l10.8 18h-21.6zM270.7 886.1l10.8 18h-21.6zM270.8 878.4l10.8 18h-21.6zM271.7 870.9l10.8 18h-21.6zM272 863.1l10.8 18h-21.6zM272.3 855.6l10.8 18h-21.6zM272.8 847.9l10.8 18h-21.6zM272.5 840.4l10.8 18h-21.6zM273.6 832.7l10.8 18h-21.6zM273.8 825.2l10.8 18h-21.6zM273.5 817.4l10.8 18h-21.6zM273.9 809.9l10.8 18h-21.6zM274.6 802.2l10.8 18h-21.6zM274.9 794.7l10.8 18h-21.6zM275 786.9l10.8 18h-21.6zM275.2 779.5l10.8 18h-21.6zM275.8 771.7l10.8 18h-21.6zM275.9 764l10.8 18h-21.6zM276.7 756.5l10.8 18h-21.6zM277.3 748.7l10.8 18h-21.6zM277 741l10.8 18h-21.6zM277.8 733.3l10.8 18h-21.6zM278.4 725.5l10.8 18h-21.6zM278.3 717.8l10.8 18h-21.6zM279.3 710l10.8 18h-21.6zM279.9 702.3l10.8 18h-21.6zM279.7 694.6l10.8 18h-21.6zM280.2 686.8l10.8 18h-21.6zM281 679.1l10.8 18h-21.6zM281.1 671.3l10.8 18h-21.6zM281.4 663.6l10.8 18h-21.6zM282.4 655.9l10.8 18h-21.6zM282.6 648.1l10.8 18h-21.6zM282.6 640.4l10.8 18h-21.6zM282.9 632.7l10.8 18h-21.6zM283.4 624.9l10.8 18h-21.6zM284 617.2l10.8 18h-21.6zM284.9 609.4l10.8 18h-21.6zM285.2 601.7l10.8 18h-21.6zM285.7 594l10.8 18h-21.6zM286 586.2l10.8 18h-21.6zM286.5 578.5l10.8 18h-21.6zM286.1 570.7l10.8 18h-21.6zM287 563l10.8 18h-21.6zM287.8 555.3l10.8 18h-21.6zM288.2 547.8l10.8 18h-21.6zM287.9 540.3l10.8 18h-21.6zM288.5 532.8l10.8 18h-21.6zM289.1 525.6l10.8 18h-21.6zM289.2 518.3l10.8 18h-21.6zM289.8 511.1l10.8 18h-21.6zM289.7 503.8l10.8 18h-21.6zM290.4 496.9l10.8 18h-21.6zM290.9 489.9l10.8 18h-21.6zM290.8 482.9l10.8 18h-21.6zM291.3 475.9l10.8 18h-21.6zM292.5 469.1l10.8 18h-21.6zM292.8 462.4l10.8 18h-21.6zM293.4 455.7l10.8 18h-21.6zM293.6 449.2l10.8 18h-21.6zM294.2 442.7l10.8 18h-21.6zM294.8 436.2l10.8 18h-21.6zM295.3 429.7l10.8 18h-21.6zM294.9 423.5l10.8 18h-21.6zM295.9 417.3l10.8 18h-21.6zM296 411l10.8 18h-21.6zM296.8 404.8l10.8 18h-21.6zM296.9 398.8l10.8 18h-21.6zM297.7 392.9l10.8 18h-21.6zM298.6 386.9l10.8 18h-21.6zM298.8 380.9l10.8 18h-21.6zM298.9 375.2l10.8 18h-21.6zM299.7 369.4l10.8 18h-21.6zM300.1 363.7l10.8 18h-21.6zM301.1 358l10.8 18h-21.6zM300.9 352.2l10.8 18h-21.6zM301.4 346.8l10.8 18h-21.6zM302.2 341.3l10.8 18h-21.6zM302.1 335.8l10.8 18h-21.6zM303.1 330.3l10.8 18h-21.6zM303.9 325.1l10.8 18h-21.6zM303.9 319.9l10.8 18h-21.6zM304.1 314.6l10.8 18h-21.6zM304.8 309.4l10.8 18h-21.6zM305.4 304.2l10.8 18h-21.6zM305.5 299.2l10.8 18h-21.6zM305.9 294.2l10.8 18h-21.6zM306.4 289.3l10.8 18h-21.6zM307.1 284.3l10.8 18h-21.6zM308 279.3l10.8 18h-21.6zM308.6 274.6l10.8 18h-21.6zM309.2 269.9l10.8 18h-21.6zM309.7 265.2l10.8 18h-21.6zM310.9 260.5l10.8 18h-21.6zM311.9 255.8l10.8 18h-21.6zM312.3 251.1l10.8 18h-21.6zM312.9 246.7l10.8 18h-21.6zM314.1 242.1l10.8 18h-21.6zM314.7 237.4l10.8 18h-21.6zM316.3 232.8l10.8 18h-21.6zM317.1 228.2l10.8 18h-21.6zM318.2 223.8l10.8 18h-21.6zM319 220l10.8 18h-21.6zM329 213l10.8 18h-21.6zM331.5 227l10.8 18h-21.6zM334 248l10.8 18h-21.6zM336 272l10.8 18h-21.6zM341 299l10.8 18h-21.6zM346 325.4l10.8 18h-21.6zM351 352l10.8 18h-21.6zM355 377l10.8 18h-21.6zM358.6 401l10.8 18h-21.6zM361.7 428.4l10.8 18h-21.6zM364.5 455l10.8 18h-21.6zM367.5 481l10.8 18h-21.6zM370 506l10.8 18h-21.6zM371.9 528l10.8 18h-21.6zM373.1 538.9l10.8 18h-21.6zM373.6 540.4l10.8 18h-21.6zM374.2 542.8l10.8 18h-21.6zM375.1 544.7l10.8 18h-21.6zM375.5 546.2l10.8 18h-21.6zM376.9 547.8l10.8 18h-21.6zM377.4 550.2l10.8 18h-21.6zM377.9 552.9l10.8 18h-21.6zM378.6 554.4l10.8 18h-21.6zM379.3 555l10.8 18h-21.6zM380.6 557.5l10.8 18h-21.6zM381 559.1l10.8 18h-21.6zM382.3 561.5l10.8 18h-21.6zM383 562.3l10.8 18h-21.6zM384.7 565l10.8 18h-21.6zM385 566l10.8 18h-21.6zM386.2 568.3l10.8 18h-21.6zM387.4 570.4l10.8 18h-21.6zM388.7 571.4l10.8 18h-21.6zM390.1 573.1l10.8 18h-21.6zM391.6 574l10.8 18h-21.6zM393.1 575.7l10.8 18h-21.6zM394.7 576l10.8 18h-21.6zM396.2 577.1l10.8 18h-21.6zM397.7 579.2l10.8 18h-21.6zM399.5 580.2l10.8 18h-21.6zM401.5 579.5l10.8 18h-21.6zM403.7 580.7l10.8 18h-21.6zM405.5 580.1l10.8 18h-21.6zM407.4 580.5l10.8 18h-21.6zM409.6 580.5l10.8 18h-21.6zM411.3 581.1l10.8 18h-21.6zM413.3 580.7l10.8 18h-21.6zM415.6 581.7l10.8 18h-21.6zM417.4 581l10.8 18h-21.6zM419.1 580.8l10.8 18h-21.6zM421.1 581.3l10.8 18h-21.6zM423.4 580.4l10.8 18h-21.6zM425.7 580.9l10.8 18h-21.6zM427.6 581.9l10.8 18h-21.6zM429.7 580.8l10.8 18h-21.6zM431.3 582.1l10.8 18h-21.6zM433 580.6l10.8 18h-21.6zM435.4 581.5l10.8 18h-21.6zM437.7 582l10.8 18h-21.6zM439.4 582.5l10.8 18h-21.6zM441.4 581.7l10.8 18h-21.6zM443.5 581.5l10.8 18h-21.6zM445.2 581.9l10.8 18h-21.6zM447.2 582.6l10.8 18h-21.6zM449.5 581.9l10.8 18h-21.6zM451 581.7l10.8 18h-21.6zM453.3 582.1l10.8 18h-21.6zM455.4 582.7l10.8 18h-21.6zM457.7 582l10.8 18h-21.6zM459.3 582.3l10.8 18h-21.6zM461.8 581.9l10.8 18h-21.6zM463.4 582.8l10.8 18h-21.6zM465.1 581.9l10.8 18h-21.6zM467.7 582.9l10.8 18h-21.6zM469.4 581.7l10.8 18h-21.6zM471.7 582.9l10.8 18h-21.6zM473.6 583.6l10.8 18h-21.6zM475.6 582.8l10.8 18h-21.6zM477 582.8l10.8 18h-21.6zM479.3 583.4l10.8 18h-21.6zM481 583l10.8 18h-21.6zM483.4 584l10.8 18h-21.6zM485.1 584.9l10.8 18h-21.6zM487.4 583.4l10.8 18h-21.6zM489.2 585l10.8 18h-21.6zM491.1 584.9l10.8 18h-21.6zM492.8 584.4l10.8 18h-21.6zM495.5 585l10.8 18h-21.6zM497.4 584.5l10.8 18h-21.6zM499.2 585.2l10.8 18h-21.6zM501 585.6l10.8 18h-21.6zM503.2 586.3l10.8 18h-21.6zM505.3 585.4l10.8 18h-21.6zM506.9 585.1l10.8 18h-21.6zM509.4 585.2l10.8 18h-21.6zM510.9 585.4l10.8 18h-21.6zM513.2 586.7l10.8 18h-21.6zM515.3 586.8l10.8 18h-21.6zM516.8 585.5l10.8 18h-21.6zM519.4 586.2l10.8 18h-21.6zM521.3 586.3l10.8 18h-21.6zM522.9 586.2l10.8 18h-21.6zM524.8 587.5l10.8 18h-21.6zM527.2 586.6l10.8 18h-21.6zM529.1 586.7l10.8 18h-21.6zM530.8 587.7l10.8 18h-21.6zM533.2 588l10.8 18h-21.6zM535.1 587.4l10.8 18h-21.6zM537 586.5l10.8 18h-21.6zM539.5 588l10.8 18h-21.6zM541 588.2l10.8 18h-21.6zM543.4 587.2l10.8 18h-21.6zM545.2 588.5l10.8 18h-21.6zM547.1 588.6l10.8 18h-21.6zM548.9 587.7l10.8 18h-21.6zM551.3 587.4l10.8 18h-21.6zM553 588.7l10.8 18h-21.6zM555.1 588.6l10.8 18h-21.6zM556.9 587.5l10.8 18h-21.6zM559 587.6l10.8 18h-21.6zM561.5 587.8l10.8 18h-21.6zM563.2 587.5l10.8 18h-21.6zM565.2 588.1l10.8 18h-21.6zM567.1 587.5l10.8 18h-21.6zM568.8 589l10.8 18h-21.6zM571 588l10.8 18h-21.6zM572.9 588.1l10.8 18h-21.6zM574.9 587.7l10.8 18h-21.6zM577.3 588.3l10.8 18h-21.6zM578.9 589l10.8 18h-21.6zM580.8 588.2l10.8 18h-21.6zM583.4 588l10.8 18h-21.6zM585.1 589.4l10.8 18h-21.6zM587.4 588.2l10.8 18h-21.6zM589 589.3l10.8 18h-21.6zM591 589.7l10.8 18h-21.6zM592.9 589.8l10.8 18h-21.6zM595.1 588.5l10.8 18h-21.6zM597.1 588.5l10.8 18h-21.6zM599.3 588.8l10.8 18h-21.6zM601.4 589.6l10.8 18h-21.6zM603 589.1l10.8 18h-21.6zM605.2 589.2l10.8 18h-21.6zM607.4 589.1l10.8 18h-21.6zM609.1 590l10.8 18h-21.6zM610.9 590.6l10.8 18h-21.6zM613 590.5l10.8 18h-21.6zM615.1 590l10.8 18h-21.6zM617 589.7l10.8 18h-21.6zM618.8 591.3l10.8 18h-21.6zM620.9 591l10.8 18h-21.6zM622.7 591l10.8 18h-21.6zM624.9 591l10.8 18h-21.6zM626.9 590.4l10.8 18h-21.6zM628.9 590.8l10.8 18h-21.6zM630.7 591.8l10.8 18h-21.6zM632.9 591.4l10.8 18h-21.6zM635.3 592.4l10.8 18h-21.6zM637.2 593.1l10.8 18h-21.6zM638.6 592.5l10.8 18h-21.6zM640.5 593.5l10.8 18h-21.6zM643 593l10.8 18h-21.6zM644.8 593.5l10.8 18h-21.6zM647 592.8l10.8 18h-21.6zM649.1 593l10.8 18h-21.6zM650.9 592.7l10.8 18h-21.6zM652.5 594.1l10.8 18h-21.6zM655 593.7l10.8 18h-21.6zM656.5 592.6l10.8 18h-21.6zM658.6 592.9l10.8 18h-21.6zM660.7 593.2l10.8 18h-21.6zM662.5 593.1l10.8 18h-21.6zM665 592.9l10.8 18h-21.6zM667.1 593.6l10.8 18h-21.6zM669 593.1l10.8 18h-21.6zM670.8 593.9l10.8 18h-21.6zM672.7 592.7l10.8 18h-21.6zM675.1 594.1l10.8 18h-21.6zM676.7 592.8l10.8 18h-21.6zM679.1 593.8l10.8 18h-21.6zM680.5 593.2l10.8 18h-21.6zM682.5 594.2l10.8 18h-21.6zM684.6 594.4l10.8 18h-21.6zM687 593l10.8 18h-21.6zM689 593.6l10.8 18h-21.6zM691 594.5l10.8 18h-21.6zM692.7 593.2l10.8 18h-21.6zM695.2 593.9l10.8 18h-21.6zM697.2 594.4l10.8 18h-21.6zM699 594.7l10.8 18h-21.6zM700.9 594.1l10.8 18h-21.6zM702.5 594.6l10.8 18h-21.6zM704.8 594.4l10.8 18h-21.6zM707.2 593.7l10.8 18h-21.6zM709 593.7l10.8 18h-21.6zM711 595.1l10.8 18h-21.6zM712.6 594.7l10.8 18h-21.6zM715.2 594.9l10.8 18h-21.6zM716.9 594.3l10.8 18h-21.6zM718.5 594.5l10.8 18h-21.6zM720.8 594.3l10.8 18h-21.6zM722.7 594.2l10.8 18h-21.6zM725 595.3l10.8 18h-21.6zM726.6 594.5l10.8 18h-21.6zM728.8 594.9l10.8 18h-21.6zM731.2 594.8l10.8 18h-21.6zM732.7 595.8l10.8 18h-21.6zM734.5 595.3l10.8 18h-21.6zM736.7 595.8l10.8 18h-21.6zM738.9 595.8l10.8 18h-21.6zM740.6 595.6l10.8 18h-21.6zM742.9 595.3l10.8 18h-21.6zM745 596l10.8 18h-21.6zM746.5 595.1l10.8 18h-21.6zM748.7 595l10.8 18h-21.6zM750.5 595.2l10.8 18h-21.6zM752.6 596l10.8 18h-21.6zM754.8 595l10.8 18h-21.6zM756.7 595.7l10.8 18h-21.6zM758.7 595.2l10.8 18h-21.6zM760.5 594.9l10.8 18h-21.6zM763.2 596.3l10.8 18h-21.6zM764.5 596.3l10.8 18h-21.6zM767.2 596.1l10.8 18h-21.6zM768.5 596l10.8 18h-21.6zM770.8 595.5l10.8 18h-21.6zM772.8 595.2l10.8 18h-21.6zM775.1 596.3l10.8 18h-21.6zM776.9 596.8l10.8 18h-21.6zM778.9 595.5l10.8 18h-21.6zM780.6 595.2l10.8 18h-21.6zM782.4 596.3l10.8 18h-21.6zM785.1 595.4l10.8 18h-21.6zM786.6 595.9l10.8 18h-21.6zM789.1 596.4l10.8 18h-21.6zM790.5 596.1l10.8 18h-21.6zM793.1 595.9l10.8 18h-21.6zM794.7 594.9l10.8 18h-21.6zM797.1 595.1l10.8 18h-21.6zM798.7 595.4l10.8 18h-21.6zM800.7 595.9l10.8 18h-21.6zM802.6 594.4l10.8 18h-21.6zM804.8 595.4l10.8 18h-21.6zM807.1 595.5l10.8 18h-21.6zM809.1 595.8l10.8 18h-21.6zM810.8 595l10.8 18h-21.6zM812.5 594.6l10.8 18h-21.6zM814.9 594.1l10.8 18h-21.6zM816.9 594.2l10.8 18h-21.6zM818.7 595.6l10.8 18h-21.6zM820.5 593.9l10.8 18h-21.6zM822.7 594.1l10.8 18h-21.6zM825 593.7l10.8 18h-21.6zM827.1 595.2l10.8 18h-21.6zM829 594.3l10.8 18h-21.6zM830.6 594.7l10.8 18h-21.6zM832.8 594.2l10.8 18h-21.6zM834.7 594.2l10.8 18h-21.6zM836.9 594.8l10.8 18h-21.6zM839.1 593.6l10.8 18h-21.6zM840.6 594l10.8 18h-21.6zM842.8 593.8l10.8 18h-21.6zM844.5 593.3l10.8 18h-21.6zM846.6 593.9l10.8 18h-21.6zM849.2 594.8l10.8 18h-21.6zM851.1 594.9l10.8 18h-21.6zM853.1 594.3l10.8 18h-21.6zM855 593.3l10.8 18h-21.6zM856.9 594.3l10.8 18h-21.6zM858.6 594.2l10.8 18h-21.6zM861.1 594.1l10.8 18h-21.6zM862.9 593.7l10.8 18h-21.6zM864.7 594.8l10.8 18h-21.6zM866.4 593.6l10.8 18h-21.6zM868.9 594l10.8 18h-21.6zM870.4 594.4l10.8 18h-21.6zM872.7 594.3l10.8 18h-21.6zM874.7 594.2l10.8 18h-21.6zM876.8 594l10.8 18h-21.6zM878.5 593.6l10.8 18h-21.6zM881.1 594.3l10.8 18h-21.6zM882.5 594.9l10.8 18h-21.6zM884.6 593.5l10.8 18h-21.6zM886.8 593.8l10.8 18h-21.6zM888.8 594.3l10.8 18h-21.6zM890.6 594.4l10.8 18h-21.6zM892.5 594.3l10.8 18h-21.6zM894.8 593.5l10.8 18h-21.6zM896.7 593.5l10.8 18h-21.6zM898.7 595l10.8 18h-21.6zM900.8 594.7l10.8 18h-21.6zM903 593.6l10.8 18h-21.6zM905.2 594.7l10.8 18h-21.6zM906.5 594.9l10.8 18h-21.6zM908.7 593.8l10.8 18h-21.6zM911.1 594.5l10.8 18h-21.6zM913 593.7l10.8 18h-21.6zM915 593.6l10.8 18h-21.6zM916.6 594.2l10.8 18h-21.6zM918.4 594.6l10.8 18h-21.6zM920.5 594.1l10.8 18h-21.6zM922.9 594.3l10.8 18h-21.6zM925.1 594.7l10.8 18h-21.6zM927.1 594.6l10.8 18h-21.6zM929.1 595.1l10.8 18h-21.6zM930.5 594.9l10.8 18h-21.6zM932.7 595l10.8 18h-21.6zM934.9 595.1l10.8 18h-21.6zM936.5 594.3l10.8 18h-21.6zM939 595.3l10.8 18h-21.6zM941 593.7l10.8 18h-21.6zM942.9 593.8l10.8 18h-21.6zM944.8 595.1l10.8 18h-21.6zM946.5 595.4l10.8 18h-21.6zM948.9 594.2l10.8 18h-21.6zM950.5 594.5l10.8 18h-21.6zM953 594.8l10.8 18h-21.6zM954.5 593.8l10.8 18h-21.6zM956.5 595.2l10.8 18h-21.6zM958.5 594.8l10.8 18h-21.6zM960.6 595l10.8 18h-21.6zM962.7 594l10.8 18h-21.6zM965.1 594.7l10.8 18h-21.6zM966.9 595.1l10.8 18h-21.6zM969.1 593.7l10.8 18h-21.6zM970.6 593.9l10.8 18h-21.6zM972.8 595.1l10.8 18h-21.6zM975 593.6l10.8 18h-21.6zM976.5 595l10.8 18h-21.6zM978.9 594.2l10.8 18h-21.6zM980.8 593.7l10.8 18h-21.6zM983 594.1l10.8 18h-21.6zM985.1 594.5l10.8 18h-21.6zM986.4 593.9l10.8 18h-21.6zM988.5 594.9l10.8 18h-21.6zM990.8 593.3l10.8 18h-21.6zM992.5 593.9l10.8 18h-21.6zM994.7 594.2l10.8 18h-21.6zM996.7 593.8l10.8 18h-21.6zM998.4 594.2l10.8 18h-21.6zM1000.6 593l10.8 18h-21.6zM1002.7 594.6l10.8 18h-21.6zM1004.4 592.8l10.8 18h-21.6zM1006.9 592.9l10.8 18h-21.6zM1008.5 593.1l10.8 18h-21.6zM1010.5 593l10.8 18h-21.6zM1012.7 593.5l10.8 18h-21.6zM1015.1 591.7l10.8 18h-21.6zM1016.7 592.8l10.8 18h-21.6zM1019 592.6l10.8 18h-21.6zM1020.8 592.2l10.8 18h-21.6zM1022.5 591.3l10.8 18h-21.6zM1024.9 592.2l10.8 18h-21.6zM1027 591.7l10.8 18h-21.6zM1028.5 591.6l10.8 18h-21.6zM1030.8 591l10.8 18h-21.6zM1032.7 590.6l10.8 18h-21.6zM1034.7 590.7l10.8 18h-21.6zM1036.3 590.5l10.8 18h-21.6zM1038.5 591.5l10.8 18h-21.6zM1040.6 590.4l10.8 18h-21.6zM1042.4 590l10.8 18h-21.6zM1044.5 589.8l10.8 18h-21.6zM1046.2 591l10.8 18h-21.6zM1048.6 590.2l10.8 18h-21.6zM1050.7 589.9l10.8 18h-21.6zM1052.3 589.4l10.8 18h-21.6zM1054.4 589.7l10.8 18h-21.6zM1056.8 590.1l10.8 18h-21.6zM1059 589.6l10.8 18h-21.6zM1060.9 590l10.8 18h-21.6zM1062.3 589.2l10.8 18h-21.6zM1064.7 590.6l10.8 18h-21.6zM1066.5 590.1l10.8 18h-21.6zM1068.5 590.3l10.8 18h-21.6zM1070.3 589.5l10.8 18h-21.6zM1072.9 589.1l10.8 18h-21.6zM1074.4 588.6l10.8 18h-21.6zM1076.3 589l10.8 18h-21.6zM1078.8 588.9l10.8 18h-21.6zM1080.5 588.8l10.8 18h-21.6zM1082.7 589.9l10.8 18h-21.6zM1084.7 588.7l10.8 18h-21.6zM1086.8 590l10.8 18h-21.6zM1088.7 588.4l10.8 18h-21.6zM1090.8 589.8l10.8 18h-21.6zM1092.5 588.4l10.8 18h-21.6zM1094.3 589l10.8 18h-21.6zM1096.9 589.2l10.8 18h-21.6zM1098.9 588.4l10.8 18h-21.6zM1100.4 589.3l10.8 18h-21.6zM1102.7 588.6l10.8 18h-21.6zM1104.7 588.5l10.8 18h-21.6zM1106.2 588.5l10.8 18h-21.6zM1108.2 588.9l10.8 18h-21.6zM1110.5 588.6l10.8 18h-21.6zM1112.7 588.1l10.8 18h-21.6zM1114.6 587.6l10.8 18h-21.6zM1116.9 588.5l10.8 18h-21.6zM1119 587.5l10.8 18h-21.6zM1120.7 588.5l10.8 18h-21.6zM1122.4 587.3l10.8 18h-21.6zM1124.3 587.2l10.8 18h-21.6zM1126.8 587l10.8 18h-21.6zM1128.8 587.4l10.8 18h-21.6zM1130.6 587.6l10.8 18h-21.6zM1132.6 587.6l10.8 18h-21.6zM1134.6 586.9l10.8 18h-21.6zM1136.7 586.6l10.8 18h-21.6zM1138.7 587.4l10.8 18h-21.6zM1140.7 586.4l10.8 18h-21.6zM1142.7 587.5l10.8 18h-21.6zM1144.5 586.1l10.8 18h-21.6zM1146.5 587.1l10.8 18h-21.6zM1148.2 585.3l10.8 18h-21.6zM1150.5 586.4l10.8 18h-21.6zM1152.7 585.7l10.8 18h-21.6zM1154.9 585.3l10.8 18h-21.6zM1156.7 584.9l10.8 18h-21.6zM1158.1 584.9l10.8 18h-21.6zM1160.1 585.4l10.8 18h-21.6zM1162.5 584.7l10.8 18h-21.6zM1164.8 584.9l10.8 18h-21.6zM1166.2 584.4l10.8 18h-21.6zM1168.6 585.5l10.8 18h-21.6zM1170.2 583.7l10.8 18h-21.6zM1172.6 583.8l10.8 18h-21.6zM1174.8 584.1l10.8 18h-21.6zM1176.5 583.6l10.8 18h-21.6zM1178.6 583.6l10.8 18h-21.6zM1180.2 584.1l10.8 18h-21.6zM1182.1 583.6l10.8 18h-21.6zM1184 583.2l10.8 18h-21.6zM1186.3 583.4l10.8 18h-21.6zM1188 582.6l10.8 18h-21.6zM1190.2 583.1l10.8 18h-21.6zM1192.7 582.3l10.8 18h-21.6zM1194.1 581.4l10.8 18h-21.6zM1196.1 581.5l10.8 18h-21.6zM1198.1 580.9l10.8 18h-21.6zM1200.5 581.4l10.8 18h-21.6zM1202.1 581.8l10.8 18h-21.6zM1204 580.7l10.8 18h-21.6zM1205.9 580.9l10.8 18h-21.6zM1208.4 579.5l10.8 18h-21.6zM1210.3 580.2l10.8 18h-21.6zM1211.9 579l10.8 18h-21.6zM1214.1 579.7l10.8 18h-21.6zM1215.8 579l10.8 18h-21.6zM1218.1 578.2l10.8 18h-21.6zM1220.1 578.7l10.8 18h-21.6zM1221.7 578.4l10.8 18h-21.6zM1223.8 577.9l10.8 18h-21.6zM1226.2 576.5l10.8 18h-21.6zM1228.2 577.6l10.8 18h-21.6zM1229.7 575.6l10.8 18h-21.6zM1231.5 576.9l10.8 18h-21.6zM1233.4 576.5l10.8 18h-21.6zM1235.5 576l10.8 18h-21.6zM1237.5 574.7l10.8 18h-21.6zM1239.9 574.4l10.8 18h-21.6zM1241.6 575.6l10.8 18h-21.6zM1243.9 575.3l10.8 18h-21.6zM1246.1 573.6l10.8 18h-21.6zM1247.5 574.7l10.8 18h-21.6zM1249.9 573.1l10.8 18h-21.6zM1251.7 573.3l10.8 18h-21.6zM1253.6 572.8l10.8 18h-21.6zM1255.3 574.2l10.8 18h-21.6zM1257.5 573.8l10.8 18h-21.6zM1259.4 572.8l10.8 18h-21.6zM1261.4 572.5l10.8 18h-21.6zM1263.4 572.8l10.8 18h-21.6zM1265.3 572.6l10.8 18h-21.6zM1267.6 571.3l10.8 18h-21.6zM1269.5 571.8l10.8 18h-21.6zM1271.9 571.5l10.8 18h-21.6zM1273.4 572.5l10.8 18h-21.6zM1275.9 572l10.8 18h-21.6zM1277.4 571l10.8 18h-21.6zM1279.4 570.7l10.8 18h-21.6zM1281.2 571.4l10.8 18h-21.6zM1283.5 571.4l10.8 18h-21.6zM1285.5 570.4l10.8 18h-21.6zM1287.7 571.4l10.8 18h-21.6zM1289.6 571.2l10.8 18h-21.6zM1291.7 571.9l10.8 18h-21.6zM1293.9 571.3l10.8 18h-21.6zM1295.5 570.5l10.8 18h-21.6zM1297.5 571.6l10.8 18h-21.6zM1299.5 570.5l10.8 18h-21.6zM1301.5 570l10.8 18h-21.6zM1303.9 569.4l10.8 18h-21.6zM1305.6 570.6l10.8 18h-21.6zM1307.2 569.5l10.8 18h-21.6zM1309.2 568.3l10.8 18h-21.6zM1311 567.6l10.8 18h-21.6zM1313.5 568.3l10.8 18h-21.6zM1315.5 566.5l10.8 18h-21.6zM1317.2 566.4l10.8 18h-21.6zM1319.1 566.3l10.8 18h-21.6zM1320.8 566.6l10.8 18h-21.6zM1322.5 565.7l10.8 18h-21.6zM1325.1 564.7l10.8 18h-21.6zM1326.8 565.1l10.8 18h-21.6zM1328.5 564l10.8 18h-21.6zM1330.8 563l10.8 18h-21.6zM1332.7 562.5l10.8 18h-21.6zM1334.5 562.4l10.8 18h-21.6zM1336.6 561.4l10.8 18h-21.6zM1338.5 561.4l10.8 18h-21.6zM1340.1 561.2l10.8 18h-21.6zM1342.1 561.3l10.8 18h-21.6zM1344.3 560.6l10.8 18h-21.6zM1346.3 559.8l10.8 18h-21.6zM1348 558.9l10.8 18h-21.6zM1350.5 559.2l10.8 18h-21.6zM1352.2 558.9l10.8 18h-21.6zM1354.4 558l10.8 18h-21.6zM1355.8 558.7l10.8 18h-21.6zM1358 558l10.8 18h-21.6zM1360.3 558.1l10.8 18h-21.6zM1362.3 556.2l10.8 18h-21.6zM1363.9 557.5l10.8 18h-21.6zM1366.3 556.2l10.8 18h-21.6zM1367.7 556.3l10.8 18h-21.6zM1369.7 556.4l10.8 18h-21.6zM1372.2 556.6l10.8 18h-21.6zM1374 555.7l10.8 18h-21.6zM1375.9 557.3l10.8 18h-21.6zM1378.1 556.2l10.8 18h-21.6zM1380 556.8l10.8 18h-21.6zM1382.2 555.5l10.8 18h-21.6zM1384.1 555.8l10.8 18h-21.6zM1386 555.5l10.8 18h-21.6zM1387.9 555.6l10.8 18h-21.6zM1389.9 555l10.8 18h-21.6zM1391.7 555.9l10.8 18h-21.6zM1393.6 555.2l10.8 18h-21.6zM1396.2 555.3l10.8 18h-21.6zM1397.8 555.2l10.8 18h-21.6zM1400.2 554.8l10.8 18h-21.6zM1402.1 556.2l10.8 18h-21.6zM1403.7 555.3l10.8 18h-21.6zM1406.2 555.6l10.8 18h-21.6zM1407.9 554.5l10.8 18h-21.6zM1409.9 555.1l10.8 18h-21.6zM1412.1 554.9l10.8 18h-21.6zM1413.9 555.4l10.8 18h-21.6zM1416.2 554.9l10.8 18h-21.6zM1417.9 555.2l10.8 18h-21.6zM1420.3 554.4l10.8 18h-21.6zM1422.3 555.4l10.8 18h-21.6zM1423.9 555.3l10.8 18h-21.6zM1425.8 554.2l10.8 18h-21.6zM1428.2 554.8l10.8 18h-21.6zM1430 555l10.8 18h-21.6zM1432.3 555.5l10.8 18h-21.6zM1433.6 555.2l10.8 18h-21.6zM1435.9 554.9l10.8 18h-21.6zM1438.2 554.8l10.8 18h-21.6zM1439.9 555.7l10.8 18h-21.6zM1441.9 555l10.8 18h-21.6zM1444 555.6l10.8 18h-21.6zM1446.1 555.4l10.8 18h-21.6zM1447.9 554.2l10.8 18h-21.6zM1450.1 555.1l10.8 18h-21.6zM1452.2 555.7l10.8 18h-21.6zM1453.6 555l10.8 18h-21.6zM1455.6 556.3l10.8 18h-21.6zM1457.6 555.2l10.8 18h-21.6zM1460.1 556.3l10.8 18h-21.6zM1461.5 556.7l10.8 18h-21.6zM1464 556.6l10.8 18h-21.6zM1465.5 557.2l10.8 18h-21.6zM1467.8 557.2l10.8 18h-21.6zM1470.2 557.9l10.8 18h-21.6zM1472.1 556.9l10.8 18h-21.6zM1473.7 557.8l10.8 18h-21.6zM1475.4 558.9l10.8 18h-21.6zM1477.6 557.7l10.8 18h-21.6zM1479.6 557.5l10.8 18h-21.6zM1482 557.8l10.8 18h-21.6zM1483.8 557.4l10.8 18h-21.6zM1485.4 556.9l10.8 18h-21.6zM1488 557.6l10.8 18h-21.6zM1490 556.4l10.8 18h-21.6zM1491.5 555.9l10.8 18h-21.6zM1493.7 556.2l10.8 18h-21.6zM1495.6 556.2l10.8 18h-21.6zM1497.7 555.8l10.8 18h-21.6zM1499.9 555.3l10.8 18h-21.6zM1502 555.7l10.8 18h-21.6zM1503.3 555.1l10.8 18h-21.6zM1505.6 555l10.8 18h-21.6zM1507.7 554.7l10.8 18h-21.6zM1509.4 555.3l10.8 18h-21.6zM1511.4 555l10.8 18h-21.6zM1513.8 554.7l10.8 18h-21.6zM1515.5 555.2l10.8 18h-21.6zM1517.5 555l10.8 18h-21.6zM1519.2 554l10.8 18h-21.6zM1521.7 553.2l10.8 18h-21.6zM1523.9 553.2l10.8 18h-21.6zM1525.6 553.2l10.8 18h-21.6zM1527.9 553.8l10.8 18h-21.6zM1529.8 553.6l10.8 18h-21.6zM1531.7 553.8l10.8 18h-21.6zM1533.4 552.8l10.8 18h-21.6zM1535.8 552.6l10.8 18h-21.6zM1537.9 552.6l10.8 18h-21.6zM1539.2 552.3l10.8 18h-21.6zM1541.8 553.7l10.8 18h-21.6zM1543.5 553.1l10.8 18h-21.6zM1545.3 553.5l10.8 18h-21.6zM1547.7 552.3l10.8 18h-21.6zM1549.2 553.5l10.8 18h-21.6zM1551.1 553.9l10.8 18h-21.6zM1553.3 553l10.8 18h-21.6zM1555.6 553.3l10.8 18h-21.6zM1557.5 553.2l10.8 18h-21.6zM1559.8 553.7l10.8 18h-21.6zM1561.7 553.5l10.8 18h-21.6zM1563.7 555.2l10.8 18h-21.6zM1565.4 553.6l10.8 18h-21.6zM1567.4 554.9l10.8 18h-21.6zM1569.2 554.9l10.8 18h-21.6zM1571.1 554.9l10.8 18h-21.6zM1573.6 555l10.8 18h-21.6zM1575.6 554.7l10.8 18h-21.6zM1577.7 554.8l10.8 18h-21.6zM1579.7 556.6l10.8 18h-21.6zM1581.8 555.9l10.8 18h-21.6zM1583.2 555.8l10.8 18h-21.6zM1585.6 556.2l10.8 18h-21.6zM1587.7 555.7l10.8 18h-21.6zM1589.3 557.4l10.8 18h-21.6zM1591.4 557.1l10.8 18h-21.6zM1593 556.6l10.8 18h-21.6zM1595.1 558.2l10.8 18h-21.6zM1597.6 557.3l10.8 18h-21.6zM1599.6 557.2l10.8 18h-21.6zM1601.3 559.2l10.8 18h-21.6zM1603.1 559.4l10.8 18h-21.6zM1605.3 558l10.8 18h-21.6zM1607.1 559l10.8 18h-21.6zM1609 559.8l10.8 18h-21.6zM1610.9 560.2l10.8 18h-21.6zM1613 559.1l10.8 18h-21.6zM1615.2 559.4l10.8 18h-21.6zM1617.1 560.9l10.8 18h-21.6zM1619.2 560.6l10.8 18h-21.6zM1620.7 561l10.8 18h-21.6zM1622.7 560.9l10.8 18h-21.6zM1624.7 560.4l10.8 18h-21.6zM1626.8 559.6l10.8 18h-21.6zM1629 558.8l10.8 18h-21.6zM1630.6 559.8l10.8 18h-21.6zM1632.7 559.2l10.8 18h-21.6zM1635.1 558.1l10.8 18h-21.6zM1636.4 557l10.8 18h-21.6zM1639 556.6l10.8 18h-21.6zM1640.6 556.8l10.8 18h-21.6zM1642.1 555.8l10.8 18h-21.6zM1643.9 555l10.8 18h-21.6zM1645.9 553.8l10.8 18h-21.6zM1647.5 553l10.8 18h-21.6zM1649.3 551.6l10.8 18h-21.6zM1651.1 552l10.8 18h-21.6zM1653.1 551.2l10.8 18h-21.6zM1654.5 550.4l10.8 18h-21.6zM1656.7 549.2l10.8 18h-21.6zM1658.5 548.1l10.8 18h-21.6zM1660.1 547.5l10.8 18h-21.6zM1661.9 545.9l10.8 18h-21.6zM1663.7 545.5l10.8 18h-21.6zM1666 544.6l10.8 18h-21.6zM1668.1 543.5l10.8 18h-21.6zM1669.8 543.1l10.8 18h-21.6zM1671.7 543.4l10.8 18h-21.6zM1673.6 541.4l10.8 18h-21.6zM1675.1 541.7l10.8 18h-21.6zM1677.6 540l10.8 18h-21.6zM1679.2 540.5l10.8 18h-21.6zM1681.2 539.2l10.8 18h-21.6zM1683.1 538.7l10.8 18h-21.6zM1685.1 537.3l10.8 18h-21.6zM1687.1 538.3l10.8 18h-21.6zM1688.7 538l10.8 18h-21.6zM1690.5 539.3l10.8 18h-21.6zM1692.8 538.5l10.8 18h-21.6zM1694.6 538.7l10.8 18h-21.6zM1696.4 539.1l10.8 18h-21.6zM1698.5 540.7l10.8 18h-21.6zM1701 540.6l10.8 18h-21.6zM1702.6 540.3l10.8 18h-21.6zM1704.8 541.3l10.8 18h-21.6zM1706.8 541l10.8 18h-21.6zM1708.4 541.2l10.8 18h-21.6zM1710.9 541.7l10.8 18h-21.6zM1712.3 541.4l10.8 18h-21.6zM1714.5 540.3l10.8 18h-21.6zM1716.9 541.1l10.8 18h-21.6zM1718.8 540l10.8 18h-21.6zM1720.8 541.3l10.8 18h-21.6zM1722.9 540.9l10.8 18h-21.6zM1724.8 540.9l10.8 18h-21.6zM1726.6 540.1l10.8 18h-21.6zM1728.8 540.6l10.8 18h-21.6zM1730.8 539.9l10.8 18h-21.6zM1732.8 540.8l10.8 18h-21.6zM1734.8 540.5l10.8 18h-21.6zM1736.7 542.2l10.8 18h-21.6zM1738.1 542.8l10.8 18h-21.6zM1740 542.1l10.8 18h-21.6zM1742.1 542.7l10.8 18h-21.6zM1744.1 544.4l10.8 18h-21.6zM1746.2 544.5l10.8 18h-21.6zM1747.9 545.1l10.8 18h-21.6zM1750.2 545.4l10.8 18h-21.6zM1752.2 546.2l10.8 18h-21.6zM1753.7 545.3l10.8 18h-21.6zM1755.9 547l10.8 18h-21.6zM1757.6 546.4l10.8 18h-21.6zM1760 546.7l10.8 18h-21.6zM1761.3 546l10.8 18h-21.6zM1763.4 545.2l10.8 18h-21.6zM1766 545.6l10.8 18h-21.6zM1767.8 545.6l10.8 18h-21.6zM1769.6 545l10.8 18h-21.6zM1771.5 546.6l10.8 18h-21.6zM1773.6 546.3l10.8 18h-21.6zM1775.1 547l10.8 18h-21.6zM1777.4 547.9l10.8 18h-21.6zM1779.3 549.3l10.8 18h-21.6zM1780.7 549.7l10.8 18h-21.6zM1782.6 550.7l10.8 18h-21.6zM1784.6 550.3l10.8 18h-21.6zM1787.1 551.2l10.8 18h-21.6zM1788.4 552.8l10.8 18h-21.6zM1790.5 553.5l10.8 18h-21.6zM1792.3 553.5l10.8 18h-21.6zM1794.5 554.4l10.8 18h-21.6zM1796.3 554.7l10.8 18h-21.6zM1797.9 555.6l10.8 18h-21.6zM1799.5 556.2l10.8 18h-21.6zM1801 558.8l10.8 18h-21.6zM1803 559.5l10.8 18h-21.6zM1804.6 559.6l10.8 18h-21.6zM1807.7 562l10.8 18h-21.6zM1810.7 565l10.8 18h-21.6zM1813.6 567.9l10.8 18h-21.6zM1816.6 570.9l10.8 18h-21.6zM1819.6 573.9l10.8 18h-21.6zM1821.5 577.6l10.8 18h-21.6zM1823.3 581.4l10.8 18h-21.6zM1825.2 585.2l10.8 18h-21.6zM1827 588.9l10.8 18h-21.6zM1828.6 592.8l10.8 18h-21.6zM1830 596.8l10.8 18h-21.6zM1831.4 600.7l10.8 18h-21.6zM1832.8 604.7l10.8 18h-21.6zM1834.2 608.7l10.8 18h-21.6zM1835.6 612.6l10.8 18h-21.6zM1837 616.6l10.8 18h-21.6zM1838.3 620.6l10.8 18h-21.6zM1840.1 624.4l10.8 18h-21.6zM1841.9 628.2l10.8 18h-21.6zM1843.7 632l10.8 18h-21.6zM1845.5 635.7l10.8 18h-21.6zM1847.3 639.5l10.8 18h-21.6zM1849.5 643.1l10.8 18h-21.6zM1851.9 646.5l10.8 18h-21.6zM1854.3 650l10.8 18h-21.6zM1856 675.2l10.8 18h-21.6z"/>
<path fill="none" stroke="#000" stroke-width="1.1" d="M354.1 338.1L354.4 340.9M357.3 363.1L357.8 367.1M360.9 389.3L361.5 392.9M364.7 415.1L365.4 420.1M368.3 442.3L368.8 446.2M371.9 468.4L372.4 471.9M375.4 494.1L375.8 496.9M688.3 782L689 786.1"/>
<path fill="#00f" shape-rendering="crispEdges" d="M251.7 1432.5l10.8 -18h-21.6zM252.4 1424.8l10.8 -18h-21.6zM253 1417l10.8 -18h-21.6zM252.9 1409.5l10.8 -18h-21.6zM253 1401.8l10.8 -18h-21.6zM253.8 1394l10.8 -18h-21.6zM254.1 1386.3l10.8 -18h-21.6zM254.1 1378.5l10.8 -18h-21.6zM253.8 1370.8l10.8 -18h-21.6zM254.6 1363l10.8 -18h-21.6zM254.6 1355.3l10.8 -18h-21.6zM255.4 1347.5l10.8 -18h-21.6zM255.1 1339.8l10.8 -18h-21.6zM255.6 1332.1l10.8 -18h-21.6zM255.9 1324.3l10.8 -18h-21.6zM255.9 1316.6l10.8 -18h-21.6zM256.3 1308.8l10.8 -18h-21.6zM256.7 1301.1l10.8 -18h-21.6zM257.2 1293.3l10.8 -18h-21.6zM257 1285.6l10.8 -18h-21.6zM257.2 1277.8l10.8 -18h-21.6zM258 1270.1l10.8 -18h-21.6zM257.4 1262.3l10.8 -18h-21.6zM258.4 1254.6l10.8 -18h-21.6zM258.5 1246.9l10.8 -18h-21.6zM258.7 1239.1l10.8 -18h-21.6zM258.8 1231.4l10.8 -18h-21.6zM259.4 1223.6l10.8 -18h-21.6zM259.8 1215.9l10.8 -18h-21.6zM259.9 1208.1l10.8 -18h-21.6zM260.2 1200.4l10.8 -18h-21.6zM259.7 1192.6l10.8 -18h-21.6zM260.3 1184.9l10.8 -18h-21.6zM260.3 1177.1l10.8 -18h-21.6zM261.4 1169.4l10.8 -18h-21.6zM261.6 1161.7l10.8 -18h-21.6zM261.1 1153.9l10.8 -18h-21.6zM261.8 1146.2l10.8 -18h-21.6zM262.1 1138.7l10.8 -18h-21.6zM261.8 1130.9l10.8 -18h-21.6zM262.4 1123.4l10.8 -18h-21.6zM263 1115.7l10.8 -18h-21.6zM263.2 1107.9l10.8 -18h-21.6zM263.2 1100.4l10.8 -18h-21.6zM264 1092.7l10.8 -18h-21.6zM263.8 1085.2l10.8 -18h-21.6zM264.4 1077.5l10.8 -18h-21.6zM264.6 1070l10.8 -18h-21.6zM265.5 1062.2l10.8 -18h-21.6zM265.5 1054.7l10.8 -18h-21.6zM266 1047l10.8 -18h-21.6zM266.2 1039.5l10.8 -18h-21.6zM266.3 1031.8l10.8 -18h-21.6zM267.2 1024l10.8 -18h-21.6zM267.3 1016.3l10.8 -18h-21.6zM267.6 1008.8l10.8 -18h-21.6zM267.5 1001l10.8 -18h-21.6zM267.7 993.3l10.8 -18h-21.6zM268.5 985.6l10.8 -18h-21.6zM269.1 977.8l10.8 -18h-21.6zM269.4 970.1l10.8 -18h-21.6zM269.3 962.6l10.8 -18h-21.6zM269.4 954.8l10.8 -18h-21.6zM270.1 947.3l10.8 -18h-21.6zM270.8 939.6l10.8 -18h-21.6zM270.4 931.9l10.8 -18h-21.6zM271.3 924.1l10.8 -18h-21.6zM271.1 916.6l10.8 -18h-21.6zM271.6 908.9l10.8 -18h-21.6zM271.6 901.4l10.8 -18h-21.6zM272.2 893.6l10.8 -18h-21.6zM272.6 886.1l10.8 -18h-21.6zM273.5 878.4l10.8 -18h-21.6zM273.9 870.9l10.8 -18h-21.6zM273.4 863.4l10.8 -18h-21.6zM273.9 855.7l10.8 -18h-21.6zM274.8 848.2l10.8 -18h-21.6zM274.4 840.4l10.8 -18h-21.6zM274.9 832.9l10.8 -18h-21.6zM275.3 825.2l10.8 -18h-21.6zM275.3 817.7l10.8 -18h-21.6zM275.8 810l10.8 -18h-21.6zM276.2 802.5l10.8 -18h-21.6zM276.6 794.7l10.8 -18h-21.6zM277.5 787.2l10.8 -18h-21.6zM277.1 779.7l10.8 -18h-21.6zM277.4 772l10.8 -18h-21.6zM278.5 764.3l10.8 -18h-21.6zM278.4 756.5l10.8 -18h-21.6zM279.2 748.8l10.8 -18h-21.6zM279.4 741l10.8 -18h-21.6zM280 733.3l10.8 -18h-21.6zM280 725.6l10.8 -18h-21.6zM280.2 718.1l10.8 -18h-21.6zM281.2 710.3l10.8 -18h-21.6zM281.4 702.6l10.8 -18h-21.6zM281.9 694.9l10.8 -18h-21.6zM282.4 687.1l10.8 -18h-21.6zM282.9 679.4l10.8 -18h-21.6zM282.8 671.6l10.8 -18h-21.6zM283.3 663.9l10.8 -18h-21.6zM284.3 656.2l10.8 -18h-21.6zM284.3 648.4l10.8 -18h-21.6zM284.5 640.7l10.8 -18h-21.6zM285.3 633l10.8 -18h-21.6zM285.3 625.2l10.8 -18h-21.6zM286.2 617.5l10.8 -18h-21.6zM285.9 609.7l10.8 -18h-21.6zM287.1 602l10.8 -18h-21.6zM287.3 594.3l10.8 -18h-21.6zM287.5 586.5l10.8 -18h-21.6zM288.5 578.8l10.8 -18h-21.6zM288.2 571l10.8 -18h-21.6zM288.6 563.6l10.8 -18h-21.6zM288.9 556.1l10.8 -18h-21.6zM289.7 548.6l10.8 -18h-21.6zM290.3 541.3l10.8 -18h-21.6zM290.6 534.1l10.8 -18h-21.6zM290.8 526.9l10.8 -18h-21.6zM291.6 519.6l10.8 -18h-21.6zM291.2 512.6l10.8 -18h-21.6zM291.8 505.6l10.8 -18h-21.6zM292.5 498.6l10.8 -18h-21.6zM293.2 491.9l10.8 -18h-21.6zM293.3 485.2l10.8 -18h-21.6zM293.9 478.4l10.8 -18h-21.6zM294.4 471.7l10.8 -18h-21.6zM294.5 465.2l10.8 -18h-21.6zM295.5 458.7l10.8 -18h-21.6zM295.8 452.3l10.8 -18h-21.6zM295.9 445.8l10.8 -18h-21.6zM296.4 439.5l10.8 -18h-21.6zM297.2 433.3l10.8 -18h-21.6zM297.2 427.1l10.8 -18h-21.6zM297.5 420.8l10.8 -18h-21.6zM298.7 414.9l10.8 -18h-21.6zM298.9 408.9l10.8 -18h-21.6zM299.4 402.9l10.8 -18h-21.6zM300 396.9l10.8 -18h-21.6zM300.7 391.2l10.8 -18h-21.6zM300.4 385.5l10.8 -18h-21.6zM301.1 379.7l10.8 -18h-21.6zM301.3 374l10.8 -18h-21.6zM302.2 368.5l10.8 -18h-21.6zM302.7 363l10.8 -18h-21.6zM303.5 357.6l10.8 -18h-21.6zM303.8 352.1l10.8 -18h-21.6zM304.2 346.6l10.8 -18h-21.6zM304.4 341.4l10.8 -18h-21.6zM305.1 336.1l10.8 -18h-21.6zM305.3 330.9l10.8 -18h-21.6zM306.3 325.7l10.8 -18h-21.6zM306.8 320.5l10.8 -18h-21.6zM307.3 315.5l10.8 -18h-21.6zM307.1 310.5l10.8 -18h-21.6zM308.1 305.5l10.8 -18h-21.6zM308.9 300.6l10.8 -18h-21.6zM309.3 295.6l10.8 -18h-21.6zM310.4 290.9l10.8 -18h-21.6zM311.1 286.2l10.8 -18h-21.6zM311.6 281.5l10.8 -18h-21.6zM312.4 276.8l10.8 -18h-21.6zM312.9 272.1l10.8 -18h-21.6zM313.8 267.4l10.8 -18h-21.6zM314.9 263.5l10.8 -18h-21.6zM319.5 260.9l10.8 -18h-21.6zM323.5 258.4l10.8 -18h-21.6zM327 256l10.8 -18h-21.6zM333.5 262.9l10.8 -18h-21.6zM338.1 268.7l10.8 -18h-21.6zM340.2 273.5l10.8 -18h-21.6zM342.9 281.3l10.8 -18h-21.6zM344.7 286.6l10.8 -18h-21.6zM346.2 295.5l10.8 -18h-21.6zM349.3 312.9l10.8 -18h-21.6zM352.5 336l10.8 -18h-21.6zM356 361l10.8 -18h-21.6zM359.1 387.2l10.8 -18h-21.6zM363.3 413l10.8 -18h-21.6zM366.8 440.2l10.8 -18h-21.6zM370.3 466.3l10.8 -18h-21.6zM374 492l10.8 -18h-21.6zM377.2 517l10.8 -18h-21.6zM381.2 538.5l10.8 -18h-21.6zM383.4 551l10.8 -18h-21.6zM386.3 559l10.8 -18h-21.6zM388.1 564.7l10.8 -18h-21.6zM388.4 567l10.8 -18h-21.6zM389.7 568.4l10.8 -18h-21.6zM390 570.2l10.8 -18h-21.6zM390.6 572.7l10.8 -18h-21.6zM392.1 574.7l10.8 -18h-21.6zM392.5 576.4l10.8 -18h-21.6zM393.2 578.3l10.8 -18h-21.6zM394.4 578.9l10.8 -18h-21.6zM395.6 580.8l10.8 -18h-21.6zM396.3 582.5l10.8 -18h-21.6zM397.5 584.9l10.8 -18h-21.6zM398.9 585.8l10.8 -18h-21.6zM400 587.6l10.8 -18h-21.6zM400.6 590l10.8 -18h-21.6zM401.8 591.2l10.8 -18h-21.6zM403.1 592.7l10.8 -18h-21.6zM404.6 594.2l10.8 -18h-21.6zM406 596.6l10.8 -18h-21.6zM407 597l10.8 -18h-21.6zM408.5 598.5l10.8 -18h-21.6zM409.7 600.4l10.8 -18h-21.6zM411 601.9l10.8 -18h-21.6zM413.1 603.1l10.8 -18h-21.6zM414.4 604.2l10.8 -18h-21.6zM416.2 605l10.8 -18h-21.6zM418 607.2l10.8 -18h-21.6zM419.6 608.4l10.8 -18h-21.6zM420.8 609.6l10.8 -18h-21.6zM422.3 609.9l10.8 -18h-21.6zM424.1 610.8l10.8 -18h-21.6zM426.3 612.2l10.8 -18h-21.6zM427.8 612.7l10.8 -18h-21.6zM429.4 613.6l10.8 -18h-21.6zM431.4 614.1l10.8 -18h-21.6zM433.6 615.3l10.8 -18h-21.6zM435.2 615.6l10.8 -18h-21.6zM437.3 616.3l10.8 -18h-21.6zM438.8 617.6l10.8 -18h-21.6zM441.1 618.5l10.8 -18h-21.6zM443.1 618.7l10.8 -18h-21.6zM445.2 618.7l10.8 -18h-21.6zM447 618.1l10.8 -18h-21.6zM448.6 618.3l10.8 -18h-21.6zM451.1 619.6l10.8 -18h-21.6zM452.9 619.2l10.8 -18h-21.6zM454.7 619.2l10.8 -18h-21.6zM456.9 620.5l10.8 -18h-21.6zM458.6 619.2l10.8 -18h-21.6zM460.5 619.8l10.8 -18h-21.6zM463.1 620.5l10.8 -18h-21.6zM464.7 619.7l10.8 -18h-21.6zM466.5 619.8l10.8 -18h-21.6zM469 620.4l10.8 -18h-21.6zM471.2 621.2l10.8 -18h-21.6zM473 620.9l10.8 -18h-21.6zM475 620.7l10.8 -18h-21.6zM476.4 621.6l10.8 -18h-21.6zM478.7 621.4l10.8 -18h-21.6zM480.5 621.4l10.8 -18h-21.6zM483 622.7l10.8 -18h-21.6zM485 623.4l10.8 -18h-21.6zM486.5 623.3l10.8 -18h-21.6zM488.5 623.8l10.8 -18h-21.6zM490.8 623.3l10.8 -18h-21.6zM492 623.9l10.8 -18h-21.6zM494.4 624.6l10.8 -18h-21.6zM495.9 625.7l10.8 -18h-21.6zM498.5 625.7l10.8 -18h-21.6zM499.8 626.8l10.8 -18h-21.6zM502.2 626.1l10.8 -18h-21.6zM503.9 627.4l10.8 -18h-21.6zM506.3 627.7l10.8 -18h-21.6zM508.1 627.8l10.8 -18h-21.6zM509.7 629.3l10.8 -18h-21.6zM511.7 628.8l10.8 -18h-21.6zM513.8 629.3l10.8 -18h-21.6zM515.4 630.3l10.8 -18h-21.6zM517.6 631.1l10.8 -18h-21.6zM519.7 631.4l10.8 -18h-21.6zM521.1 632.3l10.8 -18h-21.6zM523 632.5l10.8 -18h-21.6zM525.2 633.1l10.8 -18h-21.6zM527.5 632.8l10.8 -18h-21.6zM529.4 633.8l10.8 -18h-21.6zM531.2 633.3l10.8 -18h-21.6zM533.6 634.2l10.8 -18h-21.6zM534.9 634l10.8 -18h-21.6zM537.6 634.3l10.8 -18h-21.6zM539.1 635.4l10.8 -18h-21.6zM541.4 635.5l10.8 -18h-21.6zM543.3 635l10.8 -18h-21.6zM544.7 636.7l10.8 -18h-21.6zM547.3 635.8l10.8 -18h-21.6zM548.6 636.4l10.8 -18h-21.6zM551.3 636.8l10.8 -18h-21.6zM553.1 638.2l10.8 -18h-21.6zM555 638.6l10.8 -18h-21.6zM556.6 637.9l10.8 -18h-21.6zM558.4 639.1l10.8 -18h-21.6zM560.4 639.8l10.8 -18h-21.6zM562.9 639l10.8 -18h-21.6zM565 639.3l10.8 -18h-21.6zM566.7 639.5l10.8 -18h-21.6zM568.9 640.9l10.8 -18h-21.6zM571 639.9l10.8 -18h-21.6zM572.9 641l10.8 -18h-21.6zM574.9 641.2l10.8 -18h-21.6zM576.7 641.7l10.8 -18h-21.6zM578.8 641.3l10.8 -18h-21.6zM580.2 642.2l10.8 -18h-21.6zM582.3 642.3l10.8 -18h-21.6zM584.1 643.1l10.8 -18h-21.6zM586.1 643.5l10.8 -18h-21.6zM588.7 643.3l10.8 -18h-21.6zM590.1 643.8l10.8 -18h-21.6zM592.2 643.8l10.8 -18h-21.6zM594.1 644.8l10.8 -18h-21.6zM596.4 644.2l10.8 -18h-21.6zM598 645l10.8 -18h-21.6zM600.6 645.5l10.8 -18h-21.6zM602 645.1l10.8 -18h-21.6zM604.1 645.9l10.8 -18h-21.6zM606 646.1l10.8 -18h-21.6zM608.6 646.7l10.8 -18h-21.6zM609.8 646.1l10.8 -18h-21.6zM611.8 647.4l10.8 -18h-21.6zM614.2 647.5l10.8 -18h-21.6zM616 647.7l10.8 -18h-21.6zM618.1 648.4l10.8 -18h-21.6zM620.3 648.9l10.8 -18h-21.6zM622.2 649.6l10.8 -18h-21.6zM624.1 650l10.8 -18h-21.6zM625.4 650.6l10.8 -18h-21.6zM627.9 650.9l10.8 -18h-21.6zM629.8 651.2l10.8 -18h-21.6zM631.7 652.3l10.8 -18h-21.6zM633.4 652.7l10.8 -18h-21.6zM635 653.5l10.8 -18h-21.6zM635.9 653.4l10.8 -18h-21.6zM640 655.8l10.8 -18h-21.6zM643.1 657.4l10.8 -18h-21.6zM646.2 659l10.8 -18h-21.6zM649.3 660.6l10.8 -18h-21.6zM651.9 662.9l10.8 -18h-21.6zM654.4 665.4l10.8 -18h-21.6zM656.9 667.9l10.8 -18h-21.6zM659.2 670.5l10.8 -18h-21.6zM661.4 673.2l10.8 -18h-21.6zM663.6 675.9l10.8 -18h-21.6zM665.4 678.9l10.8 -18h-21.6zM667.3 681.9l10.8 -18h-21.6zM668.7 685.1l10.8 -18h-21.6zM669.8 688.4l10.8 -18h-21.6zM670.9 691.7l10.8 -18h-21.6zM674 703l10.8 -18h-21.6zM676 713l10.8 -18h-21.6zM677.9 724.7l10.8 -18h-21.6zM680.3 739.2l10.8 -18h-21.6zM683 758.2l10.8 -18h-21.6zM686.6 779.9l10.8 -18h-21.6zM690.7 806.2l10.8 -18h-21.6z"/>
<path fill="none" stroke="#000" stroke-width="1.1" d="M340 312.2L340.2 314.4M343.5 339.8L344 343.4M347.6 368.8L348.1 372.4M351.5 397.8L351.9 401.4M355.4 426.8L356.2 432M359.4 457.4L359.7 459.9"/>
<path fill="#008000" shape-rendering="crispEdges" d="M251.4 1412l11 11.5l-11 11.5l-11 -11.5zM252.2 1404.5l11 11.5l-11 11.5l-11 -11.5zM252.1 1396.8l11 11.5l-11 11.5l-11 -11.5zM252.6 1389.3l11 11.5l-11 11.5l-11 -11.5zM252.7 1381.8l11 11.5l-11 11.5l-11 -11.5zM253 1374l11 11.5l-11 11.5l-11 -11.5zM253.3 1366.5l11 11.5l-11 11.5l-11 -11.5zM253.3 1359l11 11.5l-11 11.5l-11 -11.5zM253.1 1351.3l11 11.5l-11 11.5l-11 -11.5zM253.3 1343.8l11 11.5l-11 11.5l-11 -11.5zM253.6 1336.3l11 11.5l-11 11.5l-11 -11.5zM253.5 1328.5l11 11.5l-11 11.5l-11 -11.5zM253.9 1321l11 11.5l-11 11.5l-11 -11.5zM254.8 1313.5l11 11.5l-11 11.5l-11 -11.5zM255 1305.8l11 11.5l-11 11.5l-11 -11.5zM254.7 1298.3l11 11.5l-11 11.5l-11 -11.5zM255.3 1290.8l11 11.5l-11 11.5l-11 -11.5zM255.6 1283.1l11 11.5l-11 11.5l-11 -11.5zM255.9 1275.3l11 11.5l-11 11.5l-11 -11.5zM256 1267.8l11 11.5l-11 11.5l-11 -11.5zM256 1260.1l11 11.5l-11 11.5l-11 -11.5zM255.8 1252.3l11 11.5l-11 11.5l-11 -11.5zM256.7 1244.6l11 11.5l-11 11.5l-11 -11.5zM256.5 1236.8l11 11.5l-11 11.5l-11 -11.5zM257 1229.1l11 11.5l-11 11.5l-11 -11.5zM257 1221.6l11 11.5l-11 11.5l-11 -11.5zM257.4 1213.8l11 11.5l-11 11.5l-11 -11.5zM258 1206.1l11 11.5l-11 11.5l-11 -11.5zM257.4 1198.3l11 11.5l-11 11.5l-11 -11.5zM258 1190.6l11 11.5l-11 11.5l-11 -11.5zM258.4 1182.8l11 11.5l-11 11.5l-11 -11.5zM258.5 1175.1l11 11.5l-11 11.5l-11 -11.5zM259.1 1167.6l11 11.5l-11 11.5l-11 -11.5zM258.8 1159.9l11 11.5l-11 11.5l-11 -11.5zM259.5 1152.1l11 11.5l-11 11.5l-11 -11.5zM259.5 1144.4l11 11.5l-11 11.5l-11 -11.5zM260.1 1136.6l11 11.5l-11 11.5l-11 -11.5zM259.4 1128.9l11 11.5l-11 11.5l-11 -11.5zM259.8 1121.1l11 11.5l-11 11.5l-11 -11.5zM260 1113.6l11 11.5l-11 11.5l-11 -11.5zM260.9 1105.9l11 11.5l-11 11.5l-11 -11.5zM260.2 1098.1l11 11.5l-11 11.5l-11 -11.5zM260.7 1090.4l11 11.5l-11 11.5l-11 -11.5zM261.5 1082.6l11 11.5l-11 11.5l-11 -11.5zM262.1 1075.2l11 11.5l-11 11.5l-11 -11.5zM261.6 1067.4l11 11.5l-11 11.5l-11 -11.5zM262.2 1059.7l11 11.5l-11 11.5l-11 -11.5zM262.8 1052.2l11 11.5l-11 11.5l-11 -11.5zM263.1 1044.4l11 11.5l-11 11.5l-11 -11.5zM263.5 1036.9l11 11.5l-11 11.5l-11 -11.5zM263.9 1029.2l11 11.5l-11 11.5l-11 -11.5zM263.7 1021.7l11 11.5l-11 11.5l-11 -11.5zM264 1014l11 11.5l-11 11.5l-11 -11.5zM264.1 1006.5l11 11.5l-11 11.5l-11 -11.5zM265.1 998.7l11 11.5l-11 11.5l-11 -11.5zM265 991l11 11.5l-11 11.5l-11 -11.5zM265.4 983.5l11 11.5l-11 11.5l-11 -11.5zM266.4 975.7l11 11.5l-11 11.5l-11 -11.5zM266.4 968l11 11.5l-11 11.5l-11 -11.5zM266.7 960.3l11 11.5l-11 11.5l-11 -11.5zM267.1 952.5l11 11.5l-11 11.5l-11 -11.5zM267.4 944.8l11 11.5l-11 11.5l-11 -11.5zM267.8 937l11 11.5l-11 11.5l-11 -11.5zM267.8 929.5l11 11.5l-11 11.5l-11 -11.5zM267.9 921.8l11 11.5l-11 11.5l-11 -11.5zM268.2 914.1l11 11.5l-11 11.5l-11 -11.5zM268.5 906.3l11 11.5l-11 11.5l-11 -11.5zM269.2 898.8l11 11.5l-11 11.5l-11 -11.5zM269.3 891.1l11 11.5l-11 11.5l-11 -11.5zM269.6 883.6l11 11.5l-11 11.5l-11 -11.5zM270.3 876.1l11 11.5l-11 11.5l-11 -11.5zM271.1 868.3l11 11.5l-11 11.5l-11 -11.5zM271.1 860.9l11 11.5l-11 11.5l-11 -11.5zM271.1 853.1l11 11.5l-11 11.5l-11 -11.5zM271.9 845.6l11 11.5l-11 11.5l-11 -11.5zM271.6 837.9l11 11.5l-11 11.5l-11 -11.5zM271.9 830.4l11 11.5l-11 11.5l-11 -11.5zM272.4 822.6l11 11.5l-11 11.5l-11 -11.5zM272.8 815.1l11 11.5l-11 11.5l-11 -11.5zM273.4 807.4l11 11.5l-11 11.5l-11 -11.5zM273.5 799.9l11 11.5l-11 11.5l-11 -11.5zM274.1 792.2l11 11.5l-11 11.5l-11 -11.5zM273.8 784.7l11 11.5l-11 11.5l-11 -11.5zM275 777.2l11 11.5l-11 11.5l-11 -11.5zM274.7 769.4l11 11.5l-11 11.5l-11 -11.5zM275.6 761.9l11 11.5l-11 11.5l-11 -11.5zM275.1 754.2l11 11.5l-11 11.5l-11 -11.5zM276.2 746.5l11 11.5l-11 11.5l-11 -11.5zM276.1 738.7l11 11.5l-11 11.5l-11 -11.5zM277.1 731l11 11.5l-11 11.5l-11 -11.5zM277.5 723.2l11 11.5l-11 11.5l-11 -11.5zM277.7 715.5l11 11.5l-11 11.5l-11 -11.5zM277.8 707.8l11 11.5l-11 11.5l-11 -11.5zM277.9 700l11 11.5l-11 11.5l-11 -11.5zM278.5 692.5l11 11.5l-11 11.5l-11 -11.5zM279.6 684.8l11 11.5l-11 11.5l-11 -11.5zM279.3 677.1l11 11.5l-11 11.5l-11 -11.5zM280.2 669.6l11 11.5l-11 11.5l-11 -11.5zM280.6 661.8l11 11.5l-11 11.5l-11 -11.5zM281.1 654.1l11 11.5l-11 11.5l-11 -11.5zM281 646.4l11 11.5l-11 11.5l-11 -11.5zM281.4 638.6l11 11.5l-11 11.5l-11 -11.5zM281.7 630.9l11 11.5l-11 11.5l-11 -11.5zM283 623.1l11 11.5l-11 11.5l-11 -11.5zM282.9 615.4l11 11.5l-11 11.5l-11 -11.5zM283.5 607.7l11 11.5l-11 11.5l-11 -11.5zM283.9 599.9l11 11.5l-11 11.5l-11 -11.5zM284 592.2l11 11.5l-11 11.5l-11 -11.5zM284.2 584.4l11 11.5l-11 11.5l-11 -11.5zM284.6 576.7l11 11.5l-11 11.5l-11 -11.5zM285.8 569l11 11.5l-11 11.5l-11 -11.5zM285.5 561.2l11 11.5l-11 11.5l-11 -11.5zM286.8 553.5l11 11.5l-11 11.5l-11 -11.5zM286.6 546l11 11.5l-11 11.5l-11 -11.5zM287.3 538.5l11 11.5l-11 11.5l-11 -11.5zM287.2 531l11 11.5l-11 11.5l-11 -11.5zM288.2 523.5l11 11.5l-11 11.5l-11 -11.5zM288.1 516.3l11 11.5l-11 11.5l-11 -11.5zM288.6 509.1l11 11.5l-11 11.5l-11 -11.5zM289.1 501.8l11 11.5l-11 11.5l-11 -11.5zM289.1 494.8l11 11.5l-11 11.5l-11 -11.5zM289.6 487.8l11 11.5l-11 11.5l-11 -11.5zM290.5 480.9l11 11.5l-11 11.5l-11 -11.5zM290.4 473.9l11 11.5l-11 11.5l-11 -11.5zM290.9 467.1l11 11.5l-11 11.5l-11 -11.5zM291.7 460.4l11 11.5l-11 11.5l-11 -11.5zM291.7 453.7l11 11.5l-11 11.5l-11 -11.5zM292.1 447.2l11 11.5l-11 11.5l-11 -11.5zM292.6 440.7l11 11.5l-11 11.5l-11 -11.5zM293.3 434.2l11 11.5l-11 11.5l-11 -11.5zM293.7 427.7l11 11.5l-11 11.5l-11 -11.5zM294.4 421.5l11 11.5l-11 11.5l-11 -11.5zM294.7 415.3l11 11.5l-11 11.5l-11 -11.5zM295.6 409l11 11.5l-11 11.5l-11 -11.5zM295.2 402.8l11 11.5l-11 11.5l-11 -11.5zM296.3 396.8l11 11.5l-11 11.5l-11 -11.5zM297 390.8l11 11.5l-11 11.5l-11 -11.5zM296.9 384.9l11 11.5l-11 11.5l-11 -11.5zM297.2 378.9l11 11.5l-11 11.5l-11 -11.5zM298.1 373.1l11 11.5l-11 11.5l-11 -11.5zM298.2 367.4l11 11.5l-11 11.5l-11 -11.5zM299 361.7l11 11.5l-11 11.5l-11 -11.5zM299.8 356l11 11.5l-11 11.5l-11 -11.5zM299.7 350.2l11 11.5l-11 11.5l-11 -11.5zM300.1 344.7l11 11.5l-11 11.5l-11 -11.5zM301 339.3l11 11.5l-11 11.5l-11 -11.5zM301.1 333.8l11 11.5l-11 11.5l-11 -11.5zM301.6 328.3l11 11.5l-11 11.5l-11 -11.5zM302.3 323.1l11 11.5l-11 11.5l-11 -11.5zM302.4 317.8l11 11.5l-11 11.5l-11 -11.5zM302.8 312.6l11 11.5l-11 11.5l-11 -11.5zM303.6 307.4l11 11.5l-11 11.5l-11 -11.5zM304.3 302.2l11 11.5l-11 11.5l-11 -11.5zM305.2 297.2l11 11.5l-11 11.5l-11 -11.5zM305.3 292.2l11 11.5l-11 11.5l-11 -11.5zM305.3 287.2l11 11.5l-11 11.5l-11 -11.5zM306 282.3l11 11.5l-11 11.5l-11 -11.5zM307.3 277.3l11 11.5l-11 11.5l-11 -11.5zM307.8 272.6l11 11.5l-11 11.5l-11 -11.5zM308.8 267.9l11 11.5l-11 11.5l-11 -11.5zM309.5 263.2l11 11.5l-11 11.5l-11 -11.5zM310.1 258.5l11 11.5l-11 11.5l-11 -11.5zM310.1 253.8l11 11.5l-11 11.5l-11 -11.5zM311.6 249.1l11 11.5l-11 11.5l-11 -11.5zM311.8 244.4l11 11.5l-11 11.5l-11 -11.5zM312.6 239.8l11 11.5l-11 11.5l-11 -11.5zM313.5 235.4l11 11.5l-11 11.5l-11 -11.5zM315.2 231l11 11.5l-11 11.5l-11 -11.5zM315.7 226.4l11 11.5l-11 11.5l-11 -11.5zM316.6 221.8l11 11.5l-11 11.5l-11 -11.5zM317.9 217.2l11 11.5l-11 11.5l-11 -11.5zM320.6 212.8l11 11.5l-11 11.5l-11 -11.5zM322.8 209.1l11 11.5l-11 11.5l-11 -11.5zM325 207.5l11 11.5l-11 11.5l-11 -11.5zM328.7 219.5l11 11.5l-11 11.5l-11 -11.5zM332.3 238.8l11 11.5l-11 11.5l-11 -11.5zM334.8 262.6l11 11.5l-11 11.5l-11 -11.5zM338.5 288l11 11.5l-11 11.5l-11 -11.5zM341.7 315.6l11 11.5l-11 11.5l-11 -11.5zM345.8 344.6l11 11.5l-11 11.5l-11 -11.5zM349.9 373.6l11 11.5l-11 11.5l-11 -11.5zM353.5 402.6l11 11.5l-11 11.5l-11 -11.5zM358.1 433.2l11 11.5l-11 11.5l-11 -11.5zM361 461.1l11 11.5l-11 11.5l-11 -11.5zM365 483.9l11 11.5l-11 11.5l-11 -11.5zM368.2 494.9l11 11.5l-11 11.5l-11 -11.5zM368.5 497.2l11 11.5l-11 11.5l-11 -11.5zM368.8 499.6l11 11.5l-11 11.5l-11 -11.5zM369.4 500.8l11 11.5l-11 11.5l-11 -11.5zM370.4 503.2l11 11.5l-11 11.5l-11 -11.5zM370.3 504.5l11 11.5l-11 11.5l-11 -11.5zM371.2 507.1l11 11.5l-11 11.5l-11 -11.5zM371.2 509l11 11.5l-11 11.5l-11 -11.5zM372.3 511l11 11.5l-11 11.5l-11 -11.5zM372.6 512.8l11 11.5l-11 11.5l-11 -11.5zM373.5 515l11 11.5l-11 11.5l-11 -11.5zM373.8 517.1l11 11.5l-11 11.5l-11 -11.5zM375 518.9l11 11.5l-11 11.5l-11 -11.5zM375.6 520.3l11 11.5l-11 11.5l-11 -11.5zM376.3 521.9l11 11.5l-11 11.5l-11 -11.5zM376.4 524.4l11 11.5l-11 11.5l-11 -11.5zM377.5 525.5l11 11.5l-11 11.5l-11 -11.5zM377.6 527.4l11 11.5l-11 11.5l-11 -11.5zM378.7 529.3l11 11.5l-11 11.5l-11 -11.5zM379.5 531.9l11 11.5l-11 11.5l-11 -11.5zM380.8 533.9l11 11.5l-11 11.5l-11 -11.5zM381.6 535.3l11 11.5l-11 11.5l-11 -11.5zM382.3 537.4l11 11.5l-11 11.5l-11 -11.5zM383.4 538.5l11 11.5l-11 11.5l-11 -11.5zM384.6 540.9l11 11.5l-11 11.5l-11 -11.5zM385.6 542.7l11 11.5l-11 11.5l-11 -11.5zM386.7 543.4l11 11.5l-11 11.5l-11 -11.5zM388 545l11 11.5l-11 11.5l-11 -11.5zM389.4 546.9l11 11.5l-11 11.5l-11 -11.5zM390 549.2l11 11.5l-11 11.5l-11 -11.5zM391.3 549.9l11 11.5l-11 11.5l-11 -11.5zM392.6 551.9l11 11.5l-11 11.5l-11 -11.5zM393.6 553l11 11.5l-11 11.5l-11 -11.5zM395.1 555.1l11 11.5l-11 11.5l-11 -11.5zM396.8 555.3l11 11.5l-11 11.5l-11 -11.5zM398.9 555.7l11 11.5l-11 11.5l-11 -11.5zM401.1 556.7l11 11.5l-11 11.5l-11 -11.5zM402.7 556.6l11 11.5l-11 11.5l-11 -11.5zM404.6 558.2l11 11.5l-11 11.5l-11 -11.5zM406.5 557.7l11 11.5l-11 11.5l-11 -11.5zM408.7 558.2l11 11.5l-11 11.5l-11 -11.5zM410.9 556.8l11 11.5l-11 11.5l-11 -11.5zM412.3 556.4l11 11.5l-11 11.5l-11 -11.5zM414.5 556.2l11 11.5l-11 11.5l-11 -11.5zM416.3 556.3l11 11.5l-11 11.5l-11 -11.5zM418.4 555.6l11 11.5l-11 11.5l-11 -11.5zM420.5 554.2l11 11.5l-11 11.5l-11 -11.5zM422.4 553.9l11 11.5l-11 11.5l-11 -11.5zM423.6 554l11 11.5l-11 11.5l-11 -11.5zM425.6 552l11 11.5l-11 11.5l-11 -11.5zM427.5 551.6l11 11.5l-11 11.5l-11 -11.5zM429.9 551.6l11 11.5l-11 11.5l-11 -11.5zM431.3 550.3l11 11.5l-11 11.5l-11 -11.5zM433.5 549.9l11 11.5l-11 11.5l-11 -11.5zM435.2 548.7l11 11.5l-11 11.5l-11 -11.5zM436.6 547.5l11 11.5l-11 11.5l-11 -11.5zM438.8 547.2l11 11.5l-11 11.5l-11 -11.5zM440.8 546.9l11 11.5l-11 11.5l-11 -11.5zM442.9 545.5l11 11.5l-11 11.5l-11 -11.5zM444.1 546l11 11.5l-11 11.5l-11 -11.5zM446.5 544.5l11 11.5l-11 11.5l-11 -11.5zM448.5 544.2l11 11.5l-11 11.5l-11 -11.5zM450.1 543.9l11 11.5l-11 11.5l-11 -11.5zM452.3 543.9l11 11.5l-11 11.5l-11 -11.5zM453.8 543.5l11 11.5l-11 11.5l-11 -11.5zM456.3 543.1l11 11.5l-11 11.5l-11 -11.5zM458.3 543.9l11 11.5l-11 11.5l-11 -11.5zM459.7 543.7l11 11.5l-11 11.5l-11 -11.5zM462.2 544.3l11 11.5l-11 11.5l-11 -11.5zM464.2 543.8l11 11.5l-11 11.5l-11 -11.5zM466.4 544.9l11 11.5l-11 11.5l-11 -11.5zM467.8 544.7l11 11.5l-11 11.5l-11 -11.5zM470.4 544.7l11 11.5l-11 11.5l-11 -11.5zM471.9 546l11 11.5l-11 11.5l-11 -11.5zM474.3 545.2l11 11.5l-11 11.5l-11 -11.5zM476.2 545.7l11 11.5l-11 11.5l-11 -11.5zM478.1 546.6l11 11.5l-11 11.5l-11 -11.5zM479.6 546.4l11 11.5l-11 11.5l-11 -11.5zM481.6 547l11 11.5l-11 11.5l-11 -11.5zM483.3 547.4l11 11.5l-11 11.5l-11 -11.5zM485.5 548.3l11 11.5l-11 11.5l-11 -11.5zM487.2 549.1l11 11.5l-11 11.5l-11 -11.5zM489.8 549.6l11 11.5l-11 11.5l-11 -11.5zM491.3 550.4l11 11.5l-11 11.5l-11 -11.5zM493.3 550.2l11 11.5l-11 11.5l-11 -11.5zM495.2 550.5l11 11.5l-11 11.5l-11 -11.5zM497.3 551.3l11 11.5l-11 11.5l-11 -11.5zM499 552.8l11 11.5l-11 11.5l-11 -11.5zM501.3 552.6l11 11.5l-11 11.5l-11 -11.5zM503.2 552.3l11 11.5l-11 11.5l-11 -11.5zM505.3 552.7l11 11.5l-11 11.5l-11 -11.5zM506.8 552.4l11 11.5l-11 11.5l-11 -11.5zM508.9 551.6l11 11.5l-11 11.5l-11 -11.5zM511.3 552l11 11.5l-11 11.5l-11 -11.5zM513.4 552.3l11 11.5l-11 11.5l-11 -11.5zM515.2 551.3l11 11.5l-11 11.5l-11 -11.5zM516.7 551.8l11 11.5l-11 11.5l-11 -11.5zM519.3 551.3l11 11.5l-11 11.5l-11 -11.5zM520.7 550.9l11 11.5l-11 11.5l-11 -11.5zM522.8 551.6l11 11.5l-11 11.5l-11 -11.5zM524.6 550.6l11 11.5l-11 11.5l-11 -11.5zM526.8 550.9l11 11.5l-11 11.5l-11 -11.5zM529.4 549.6l11 11.5l-11 11.5l-11 -11.5zM530.6 550.6l11 11.5l-11 11.5l-11 -11.5zM533.3 549.1l11 11.5l-11 11.5l-11 -11.5zM534.8 549.3l11 11.5l-11 11.5l-11 -11.5zM536.7 548.8l11 11.5l-11 11.5l-11 -11.5zM538.8 548.3l11 11.5l-11 11.5l-11 -11.5zM540.4 547.7l11 11.5l-11 11.5l-11 -11.5zM542.5 547.4l11 11.5l-11 11.5l-11 -11.5zM544.8 548l11 11.5l-11 11.5l-11 -11.5zM546.6 548.1l11 11.5l-11 11.5l-11 -11.5zM548.9 547.5l11 11.5l-11 11.5l-11 -11.5zM550.7 547.3l11 11.5l-11 11.5l-11 -11.5zM553.1 547.9l11 11.5l-11 11.5l-11 -11.5zM554.4 547.3l11 11.5l-11 11.5l-11 -11.5zM556.9 547.7l11 11.5l-11 11.5l-11 -11.5zM558.9 547.5l11 11.5l-11 11.5l-11 -11.5zM561 548.3l11 11.5l-11 11.5l-11 -11.5zM562.4 548l11 11.5l-11 11.5l-11 -11.5zM564.5 548.2l11 11.5l-11 11.5l-11 -11.5zM567 548.5l11 11.5l-11 11.5l-11 -11.5zM568.5 547.8l11 11.5l-11 11.5l-11 -11.5zM570.8 548.8l11 11.5l-11 11.5l-11 -11.5zM572.4 548.6l11 11.5l-11 11.5l-11 -11.5zM574.7 548.7l11 11.5l-11 11.5l-11 -11.5zM576.7 549.2l11 11.5l-11 11.5l-11 -11.5zM578.4 549.8l11 11.5l-11 11.5l-11 -11.5zM580.6 550.5l11 11.5l-11 11.5l-11 -11.5zM582.2 550.8l11 11.5l-11 11.5l-11 -11.5zM584.3 549.9l11 11.5l-11 11.5l-11 -11.5zM586.6 550.1l11 11.5l-11 11.5l-11 -11.5zM588.5 550l11 11.5l-11 11.5l-11 -11.5zM590.2 548.8l11 11.5l-11 11.5l-11 -11.5zM592.5 548.4l11 11.5l-11 11.5l-11 -11.5zM594.1 547.9l11 11.5l-11 11.5l-11 -11.5zM596.5 548.4l11 11.5l-11 11.5l-11 -11.5zM598.5 548.2l11 11.5l-11 11.5l-11 -11.5zM600.5 546.9l11 11.5l-11 11.5l-11 -11.5zM602 548l11 11.5l-11 11.5l-11 -11.5zM603.7 548.4l11 11.5l-11 11.5l-11 -11.5zM605.7 548.2l11 11.5l-11 11.5l-11 -11.5zM608 548.9l11 11.5l-11 11.5l-11 -11.5zM610.2 550.4l11 11.5l-11 11.5l-11 -11.5zM611.8 550l11 11.5l-11 11.5l-11 -11.5zM613.4 551l11 11.5l-11 11.5l-11 -11.5zM615.7 551.3l11 11.5l-11 11.5l-11 -11.5zM617.8 552.1l11 11.5l-11 11.5l-11 -11.5zM619.8 551.4l11 11.5l-11 11.5l-11 -11.5zM621.2 551.6l11 11.5l-11 11.5l-11 -11.5zM623.5 551.3l11 11.5l-11 11.5l-11 -11.5zM625.7 551l11 11.5l-11 11.5l-11 -11.5zM627.4 551.2l11 11.5l-11 11.5l-11 -11.5zM629.7 551.5l11 11.5l-11 11.5l-11 -11.5zM631.4 550.8l11 11.5l-11 11.5l-11 -11.5zM633.9 551.4l11 11.5l-11 11.5l-11 -11.5zM635.6 550l11 11.5l-11 11.5l-11 -11.5zM637.5 550.6l11 11.5l-11 11.5l-11 -11.5zM639.3 549.8l11 11.5l-11 11.5l-11 -11.5zM641.8 551.5l11 11.5l-11 11.5l-11 -11.5zM643.1 551.4l11 11.5l-11 11.5l-11 -11.5zM645.4 551.7l11 11.5l-11 11.5l-11 -11.5zM646.9 552.8l11 11.5l-11 11.5l-11 -11.5zM649.4 552.9l11 11.5l-11 11.5l-11 -11.5zM650.8 553.3l11 11.5l-11 11.5l-11 -11.5zM652.7 554.6l11 11.5l-11 11.5l-11 -11.5zM654.6 554.2l11 11.5l-11 11.5l-11 -11.5zM657.1 554.5l11 11.5l-11 11.5l-11 -11.5zM658.5 554.9l11 11.5l-11 11.5l-11 -11.5zM660.5 556l11 11.5l-11 11.5l-11 -11.5zM663 555.7l11 11.5l-11 11.5l-11 -11.5zM664.5 556.4l11 11.5l-11 11.5l-11 -11.5zM666.7 555.7l11 11.5l-11 11.5l-11 -11.5zM668.4 555.4l11 11.5l-11 11.5l-11 -11.5zM671.1 555.1l11 11.5l-11 11.5l-11 -11.5zM672.5 555.9l11 11.5l-11 11.5l-11 -11.5zM675 556l11 11.5l-11 11.5l-11 -11.5zM676.7 556l11 11.5l-11 11.5l-11 -11.5zM678.8 554.9l11 11.5l-11 11.5l-11 -11.5zM680.7 555.4l11 11.5l-11 11.5l-11 -11.5zM682.9 554.5l11 11.5l-11 11.5l-11 -11.5zM684.5 555.6l11 11.5l-11 11.5l-11 -11.5zM686.3 555.9l11 11.5l-11 11.5l-11 -11.5zM688.4 555.7l11 11.5l-11 11.5l-11 -11.5zM690.3 556.5l11 11.5l-11 11.5l-11 -11.5zM692.8 556.6l11 11.5l-11 11.5l-11 -11.5zM694.6 557.3l11 11.5l-11 11.5l-11 -11.5zM696 558.4l11 11.5l-11 11.5l-11 -11.5zM698.1 558.2l11 11.5l-11 11.5l-11 -11.5zM700.1 559.6l11 11.5l-11 11.5l-11 -11.5zM702.4 559.8l11 11.5l-11 11.5l-11 -11.5zM703.6 560.6l11 11.5l-11 11.5l-11 -11.5zM706 561.4l11 11.5l-11 11.5l-11 -11.5zM708 561.5l11 11.5l-11 11.5l-11 -11.5zM709.7 563.1l11 11.5l-11 11.5l-11 -11.5zM711 563.4l11 11.5l-11 11.5l-11 -11.5zM712.9 564.3l11 11.5l-11 11.5l-11 -11.5zM714.7 564.9l11 11.5l-11 11.5l-11 -11.5zM716.3 566.9l11 11.5l-11 11.5l-11 -11.5zM718.3 567.5l11 11.5l-11 11.5l-11 -11.5zM720.4 568.5l11 11.5l-11 11.5l-11 -11.5zM721.7 569.7l11 11.5l-11 11.5l-11 -11.5zM724 570.3l11 11.5l-11 11.5l-11 -11.5zM725.9 569.9l11 11.5l-11 11.5l-11 -11.5zM728 569.1l11 11.5l-11 11.5l-11 -11.5zM729.8 569.1l11 11.5l-11 11.5l-11 -11.5zM732 568.7l11 11.5l-11 11.5l-11 -11.5zM733.7 568.8l11 11.5l-11 11.5l-11 -11.5zM736 568.7l11 11.5l-11 11.5l-11 -11.5zM738 569.2l11 11.5l-11 11.5l-11 -11.5zM740 568l11 11.5l-11 11.5l-11 -11.5zM742 568.7l11 11.5l-11 11.5l-11 -11.5zM743.8 568.4l11 11.5l-11 11.5l-11 -11.5zM745.3 568.5l11 11.5l-11 11.5l-11 -11.5zM747.7 567.7l11 11.5l-11 11.5l-11 -11.5zM749.5 568l11 11.5l-11 11.5l-11 -11.5zM751.9 567.9l11 11.5l-11 11.5l-11 -11.5zM753.4 567l11 11.5l-11 11.5l-11 -11.5zM755.4 566.5l11 11.5l-11 11.5l-11 -11.5zM757.5 566.2l11 11.5l-11 11.5l-11 -11.5zM759.8 566.3l11 11.5l-11 11.5l-11 -11.5zM761.2 565.8l11 11.5l-11 11.5l-11 -11.5zM763.8 565.8l11 11.5l-11 11.5l-11 -11.5zM765.5 565.9l11 11.5l-11 11.5l-11 -11.5zM767.8 566.5l11 11.5l-11 11.5l-11 -11.5zM769.4 565.8l11 11.5l-11 11.5l-11 -11.5zM771.9 565.4l11 11.5l-11 11.5l-11 -11.5zM773.8 565.6l11 11.5l-11 11.5l-11 -11.5zM775.4 565.6l11 11.5l-11 11.5l-11 -11.5zM777.6 564.3l11 11.5l-11 11.5l-11 -11.5zM779.6 565.1l11 11.5l-11 11.5l-11 -11.5zM781.5 564.4l11 11.5l-11 11.5l-11 -11.5zM783.4 564.8l11 11.5l-11 11.5l-11 -11.5zM785.6 563.7l11 11.5l-11 11.5l-11 -11.5zM787.4 563.8l11 11.5l-11 11.5l-11 -11.5zM789.8 564.1l11 11.5l-11 11.5l-11 -11.5zM791.2 564.4l11 11.5l-11 11.5l-11 -11.5zM793.1 563.8l11 11.5l-11 11.5l-11 -11.5zM795.4 564l11 11.5l-11 11.5l-11 -11.5zM797.4 563l11 11.5l-11 11.5l-11 -11.5zM799.5 563.9l11 11.5l-11 11.5l-11 -11.5zM801.7 563.2l11 11.5l-11 11.5l-11 -11.5zM803.2 563.7l11 11.5l-11 11.5l-11 -11.5zM805.7 562.9l11 11.5l-11 11.5l-11 -11.5zM807.8 563.9l11 11.5l-11 11.5l-11 -11.5zM809.4 563l11 11.5l-11 11.5l-11 -11.5zM811.6 563.6l11 11.5l-11 11.5l-11 -11.5zM813.2 562.7l11 11.5l-11 11.5l-11 -11.5zM815.3 563.2l11 11.5l-11 11.5l-11 -11.5zM817.2 562.9l11 11.5l-11 11.5l-11 -11.5zM819.4 563l11 11.5l-11 11.5l-11 -11.5zM821.2 563.3l11 11.5l-11 11.5l-11 -11.5zM823.8 562.7l11 11.5l-11 11.5l-11 -11.5zM825.7 562.1l11 11.5l-11 11.5l-11 -11.5zM827.7 563l11 11.5l-11 11.5l-11 -11.5zM829.5 563.9l11 11.5l-11 11.5l-11 -11.5zM831.2 564.5l11 11.5l-11 11.5l-11 -11.5zM833 563.7l11 11.5l-11 11.5l-11 -11.5zM835.2 565.4l11 11.5l-11 11.5l-11 -11.5zM837.4 566l11 11.5l-11 11.5l-11 -11.5zM839 566.4l11 11.5l-11 11.5l-11 -11.5zM841 565.8l11 11.5l-11 11.5l-11 -11.5zM843 567.2l11 11.5l-11 11.5l-11 -11.5zM844.8 567.4l11 11.5l-11 11.5l-11 -11.5zM846.6 567.4l11 11.5l-11 11.5l-11 -11.5zM848.7 568.2l11 11.5l-11 11.5l-11 -11.5zM850.7 568.1l11 11.5l-11 11.5l-11 -11.5zM852.2 568.9l11 11.5l-11 11.5l-11 -11.5zM854.7 570l11 11.5l-11 11.5l-11 -11.5zM856.3 569.7l11 11.5l-11 11.5l-11 -11.5zM858.4 570.2l11 11.5l-11 11.5l-11 -11.5zM860.1 572.4l11 11.5l-11 11.5l-11 -11.5zM861.4 573.1l11 11.5l-11 11.5l-11 -11.5zM863.5 574.5l11 11.5l-11 11.5l-11 -11.5zM865.1 575.6l11 11.5l-11 11.5l-11 -11.5zM866.4 576.9l11 11.5l-11 11.5l-11 -11.5zM868.5 577l11 11.5l-11 11.5l-11 -11.5zM870.2 578.7l11 11.5l-11 11.5l-11 -11.5zM871 579.5l11 11.5l-11 11.5l-11 -11.5zM873 581.7l11 11.5l-11 11.5l-11 -11.5zM874 582.8l11 11.5l-11 11.5l-11 -11.5zM875.8 584.9l11 11.5l-11 11.5l-11 -11.5zM877 585.9l11 11.5l-11 11.5l-11 -11.5zM878.4 586.5l11 11.5l-11 11.5l-11 -11.5zM879.8 588.2l11 11.5l-11 11.5l-11 -11.5zM881.6 589.4l11 11.5l-11 11.5l-11 -11.5zM882.9 590.3l11 11.5l-11 11.5l-11 -11.5zM884.8 590.9l11 11.5l-11 11.5l-11 -11.5zM886.8 591.9l11 11.5l-11 11.5l-11 -11.5zM888.6 592.5l11 11.5l-11 11.5l-11 -11.5zM890.8 593.7l11 11.5l-11 11.5l-11 -11.5zM892.7 593.1l11 11.5l-11 11.5l-11 -11.5zM894.6 591.4l11 11.5l-11 11.5l-11 -11.5zM896.6 590.7l11 11.5l-11 11.5l-11 -11.5zM898.1 590l11 11.5l-11 11.5l-11 -11.5zM900.5 590.6l11 11.5l-11 11.5l-11 -11.5zM902.1 589.1l11 11.5l-11 11.5l-11 -11.5zM904.1 588.5l11 11.5l-11 11.5l-11 -11.5zM906.2 587.9l11 11.5l-11 11.5l-11 -11.5zM907.7 588.3l11 11.5l-11 11.5l-11 -11.5zM910 586.8l11 11.5l-11 11.5l-11 -11.5zM912.2 587.6l11 11.5l-11 11.5l-11 -11.5zM913.8 587.2l11 11.5l-11 11.5l-11 -11.5zM916.2 586.6l11 11.5l-11 11.5l-11 -11.5zM917.8 586.2l11 11.5l-11 11.5l-11 -11.5zM919.9 586.4l11 11.5l-11 11.5l-11 -11.5zM922 586.6l11 11.5l-11 11.5l-11 -11.5zM923.6 585.5l11 11.5l-11 11.5l-11 -11.5zM926 586.5l11 11.5l-11 11.5l-11 -11.5zM927.7 587.1l11 11.5l-11 11.5l-11 -11.5zM929.4 588.2l11 11.5l-11 11.5l-11 -11.5zM931.4 588.1l11 11.5l-11 11.5l-11 -11.5zM932.6 588.9l11 11.5l-11 11.5l-11 -11.5zM934.5 591.4l11 11.5l-11 11.5l-11 -11.5zM935 592.3l11 11.5l-11 11.5l-11 -11.5zM936.6 594.1l11 11.5l-11 11.5l-11 -11.5zM940.2 603.6l11 11.5l-11 11.5l-11 -11.5zM942.6 616.9l11 11.5l-11 11.5l-11 -11.5zM944.6 631.3l11 11.5l-11 11.5l-11 -11.5zM947.3 647.1l11 11.5l-11 11.5l-11 -11.5zM950.4 663.9l11 11.5l-11 11.5l-11 -11.5zM953.3 682.4l11 11.5l-11 11.5l-11 -11.5zM956.3 701.4l11 11.5l-11 11.5l-11 -11.5zM959.1 721.9l11 11.5l-11 11.5l-11 -11.5zM962.7 744l11 11.5l-11 11.5l-11 -11.5zM965.4 766.7l11 11.5l-11 11.5l-11 -11.5z"/>
</g>
<g stroke="#000" stroke-width="5" fill="none" stroke-linecap="butt" shape-rendering="crispEdges">
<rect x="251.5" y="48.5" width="1688.0" height="1375.0"/>
<path d="M224 1423.50H251.5M224 1194.33H251.5M224 965.17H251.5M224 736.00H251.5M224 506.83H251.5M224 277.67H251.5M224 48.50H251.5M238 1308.92H251.5M238 1079.75H251.5M238 850.58H251.5M238 621.42H251.5M238 392.25H251.5M238 163.08H251.5M251.50 1423.5V1450M392.17 1423.5V1450M532.83 1423.5V1450M673.50 1423.5V1450M814.17 1423.5V1450M954.83 1423.5V1450M1095.50 1423.5V1450M1236.17 1423.5V1450M1376.83 1423.5V1450M1517.50 1423.5V1450M1658.17 1423.5V1450M1798.83 1423.5V1450M1939.50 1423.5V1450M321.83 1423.5V1437M462.50 1423.5V1437M603.17 1423.5V1437M743.83 1423.5V1437M884.50 1423.5V1437M1025.17 1423.5V1437M1165.83 1423.5V1437M1306.50 1423.5V1437M1447.17 1423.5V1437M1587.83 1423.5V1437M1728.50 1423.5V1437M1869.17 1423.5V1437"/>
</g>
<g font-size="58" fill="#000">
<text transform="translate(205 1440.1) scale(0.975 1.035)" text-anchor="end">0</text>
<text transform="translate(205 1210.9) scale(0.975 1.035)" text-anchor="end">20</text>
<text transform="translate(205 981.8) scale(0.975 1.035)" text-anchor="end">40</text>
<text transform="translate(205 752.6) scale(0.975 1.035)" text-anchor="end">60</text>
<text transform="translate(205 523.4) scale(0.975 1.035)" text-anchor="end">80</text>
<text transform="translate(205 294.3) scale(0.975 1.035)" text-anchor="end">100</text>
<text transform="translate(205 65.1) scale(0.975 1.035)" text-anchor="end">120</text>
<text transform="translate(251.50 1514) scale(0.975 1.035)" text-anchor="middle">0</text>
<text transform="translate(392.17 1514) scale(0.975 1.035)" text-anchor="middle">10</text>
<text transform="translate(532.83 1514) scale(0.975 1.035)" text-anchor="middle">20</text>
<text transform="translate(673.50 1514) scale(0.975 1.035)" text-anchor="middle">30</text>
<text transform="translate(814.17 1514) scale(0.975 1.035)" text-anchor="middle">40</text>
<text transform="translate(954.83 1514) scale(0.975 1.035)" text-anchor="middle">50</text>
<text transform="translate(1095.50 1514) scale(0.975 1.035)" text-anchor="middle">60</text>
<text transform="translate(1236.17 1514) scale(0.975 1.035)" text-anchor="middle">70</text>
<text transform="translate(1376.83 1514) scale(0.975 1.035)" text-anchor="middle">80</text>
<text transform="translate(1517.50 1514) scale(0.975 1.035)" text-anchor="middle">90</text>
<text transform="translate(1658.17 1514) scale(0.975 1.035)" text-anchor="middle">100</text>
<text transform="translate(1798.83 1514) scale(0.975 1.035)" text-anchor="middle">110</text>
<text transform="translate(1939.50 1514) scale(0.975 1.035)" text-anchor="middle">120</text>
</g>
<text x="1095.5" y="1625" font-size="71.4" text-anchor="middle">Strain (%)</text>
<text transform="translate(80 735.4) rotate(-90)" x="0" y="0" font-size="72" text-anchor="middle">Stress (MPa)</text>
<g fill="#000">
<rect x="1456" y="982" width="449" height="2"/>
<rect x="1456" y="1390" width="449" height="1.2"/>
<rect x="1456" y="982" width="1.3" height="409"/>
<rect x="1903" y="982" width="2" height="409"/>
<rect x="1465" y="1026" width="144" height="2"/>
<rect x="1465" y="1107" width="144" height="1"/>
<rect x="1465" y="1186" width="144" height="2"/>
<rect x="1465" y="1266" width="144" height="2"/>
<rect x="1465" y="1346" width="144" height="1"/>
</g>
<rect x="1529" y="1019" width="15" height="15.7" fill="#000"/>
<circle cx="1537.1" cy="1107.5" r="9.2" fill="#f00"/>
<path d="M1537.1 1174.5l10.8 18.7h-21.6z" fill="#0f0"/>
<path d="M1537.1 1279.5l10.8 -18.7h-21.6z" fill="#00f"/>
<path d="M1537.1 1334.5l11.4 12l-11.4 12l-11.4 -12z" fill="#008000"/>
<g font-size="65" fill="#000">
<text x="1625" y="1048.6">Sample 1</text>
<text x="1625" y="1129.1">Sample 2</text>
<text x="1625" y="1208.6">Sample 3</text>
<text x="1625" y="1288.6">Sample 4</text>
<text x="1625" y="1368.1">Sample 5</text>
</g>
</svg></body></html>
